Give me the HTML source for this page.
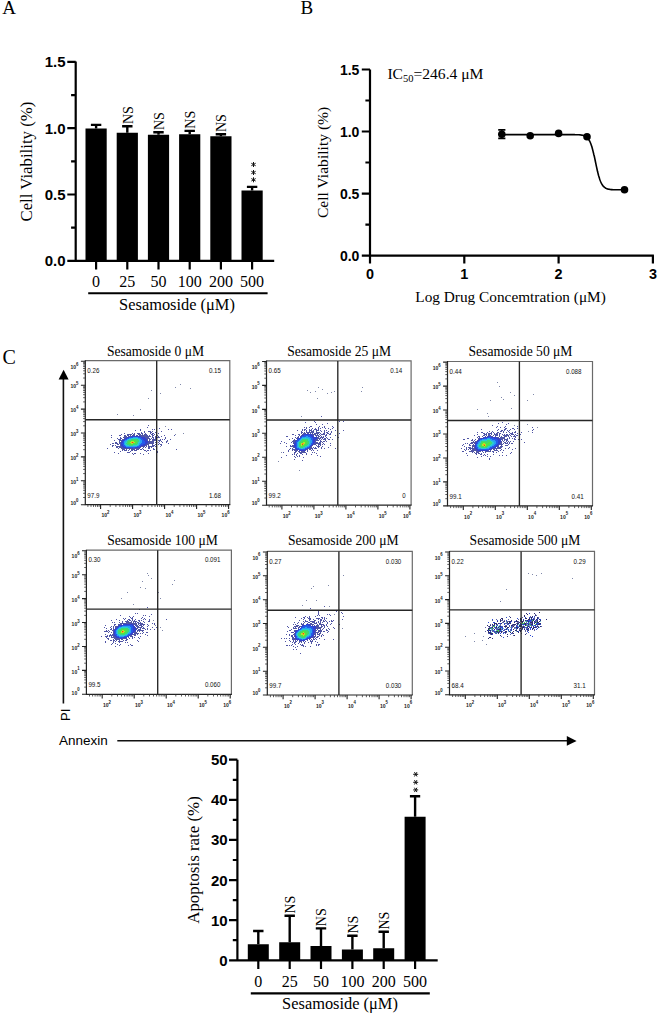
<!DOCTYPE html><html><head><meta charset="utf-8"><style>html,body{margin:0;padding:0;background:#fff;width:660px;height:1016px;overflow:hidden}svg{display:block}.s{font-family:"Liberation Serif",serif}.a{font-family:"Liberation Sans",sans-serif}</style></head><body><svg width="660" height="1016" viewBox="0 0 660 1016">
<text x="2.2" y="13.6" class="s" font-size="19">A</text>
<text x="300.6" y="13.8" class="s" font-size="19">B</text>
<text x="2.6" y="364.0" class="s" font-size="20">C</text>
<path d="M85.5 128.5H106.7V260.8H85.5ZM116.7 132.7H137.9V260.8H116.7ZM147.9 134.8H169.1V260.8H147.9ZM179.1 134.3H200.3V260.8H179.1ZM210.3 136.3H231.5V260.8H210.3ZM241.5 190.5H262.7V260.8H241.5Z" fill="#000"/>
<path d="M96.1 128.5V124.9M90.9 124.9H101.3M127.3 132.7V126.2M122.1 126.2H132.5M158.5 134.8V132.2M153.3 132.2H163.7M189.7 134.3V130.9M184.5 130.9H194.9M220.9 136.3V134.2M215.7 134.2H226.1M252.1 190.5V186.9M246.9 186.9H257.3" stroke="#000" stroke-width="2.4" fill="none"/>
<path d="M75.7 61.5V260.8M67.3 260.8H274.2M67.3 194.5H75.7M67.3 128.2H75.7M67.3 61.9H75.7M71.1 227.7H75.7M71.1 161.4H75.7M71.1 95.1H75.7M96.1 260.8V269.4M127.3 260.8V269.4M158.5 260.8V269.4M189.7 260.8V269.4M220.9 260.8V269.4M252.1 260.8V269.4" stroke="#000" stroke-width="2.2" fill="none"/>
<text x="65.6" y="266.2" class="a" font-size="15" text-anchor="end" font-weight="bold">0.0</text>
<text x="65.6" y="199.9" class="a" font-size="15" text-anchor="end" font-weight="bold">0.5</text>
<text x="65.6" y="133.6" class="a" font-size="15" text-anchor="end" font-weight="bold">1.0</text>
<text x="65.6" y="67.3" class="a" font-size="15" text-anchor="end" font-weight="bold">1.5</text>
<text x="96.1" y="286.6" class="s" font-size="16" text-anchor="middle">0</text>
<text x="127.3" y="286.6" class="s" font-size="16" text-anchor="middle">25</text>
<text x="158.5" y="286.6" class="s" font-size="16" text-anchor="middle">50</text>
<text x="189.7" y="286.6" class="s" font-size="16" text-anchor="middle">100</text>
<text x="220.9" y="286.6" class="s" font-size="16" text-anchor="middle">200</text>
<text x="252.1" y="286.6" class="s" font-size="16" text-anchor="middle">500</text>
<path d="M88.2 293.3H267.6" stroke="#000" stroke-width="2"/>
<text x="177.0" y="310.3" class="s" font-size="16.4" text-anchor="middle">Sesamoside (&#956;M)</text>
<text x="32.2" y="161.6" class="s" font-size="16.8" text-anchor="middle" transform="rotate(-90 32.2 161.6)">Cell Viability (%)</text>
<text x="132.5" y="124.0" class="s" font-size="14" transform="rotate(-90 132.5 124.0)">NS</text>
<text x="163.7" y="130.0" class="s" font-size="14" transform="rotate(-90 163.7 130.0)">NS</text>
<text x="194.9" y="128.7" class="s" font-size="14" transform="rotate(-90 194.9 128.7)">NS</text>
<text x="226.1" y="132.0" class="s" font-size="14" transform="rotate(-90 226.1 132.0)">NS</text>
<path d="M253.50 162.00L253.50 167.00M255.67 163.25L251.33 165.75M255.67 165.75L251.33 163.25M253.50 170.00L253.50 175.00M255.67 171.25L251.33 173.75M255.67 173.75L251.33 171.25M253.50 177.30L253.50 182.30M255.67 178.55L251.33 181.05M255.67 181.05L251.33 178.55" stroke="#111" stroke-width="1.0" fill="none"/>
<path d="M370.0 69.4V255.6M361.8 255.6H653.9M361.8 193.6H370.0M361.8 131.5H370.0M361.8 69.5H370.0M365.4 224.6H370.0M365.4 162.5H370.0M365.4 100.5H370.0M370.0 255.6V263.6M464.3 255.6V263.6M558.6 255.6V263.6M652.9 255.6V263.6" stroke="#000" stroke-width="2.2" fill="none"/>
<text x="359.4" y="260.6" class="a" font-size="14" text-anchor="end" font-weight="bold">0.0</text>
<text x="359.4" y="198.6" class="a" font-size="14" text-anchor="end" font-weight="bold">0.5</text>
<text x="359.4" y="136.5" class="a" font-size="14" text-anchor="end" font-weight="bold">1.0</text>
<text x="359.4" y="74.5" class="a" font-size="14" text-anchor="end" font-weight="bold">1.5</text>
<text x="370.0" y="278.8" class="a" font-size="14.4" text-anchor="middle" font-weight="bold">0</text>
<text x="464.3" y="278.8" class="a" font-size="14.4" text-anchor="middle" font-weight="bold">1</text>
<text x="558.6" y="278.8" class="a" font-size="14.4" text-anchor="middle" font-weight="bold">2</text>
<text x="652.9" y="278.8" class="a" font-size="14.4" text-anchor="middle" font-weight="bold">3</text>
<text x="510.6" y="301.8" class="s" font-size="15.3" text-anchor="middle">Log Drug Concemtration (&#956;M)</text>
<text x="328.4" y="162.4" class="s" font-size="15.6" text-anchor="middle" transform="rotate(-90 328.4 162.4)">Cell Viability (%)</text>
<text x="387.4" y="79.2" class="s" font-size="15.6">IC<tspan font-size="10.5" dy="3">50</tspan><tspan dy="-3">=246.4 &#956;M</tspan></text>
<path d="M501.8 134.6 L502.2 134.6 L502.6 134.6 L503.1 134.6 L503.5 134.6 L503.9 134.6 L504.3 134.6 L504.7 134.6 L505.1 134.6 L505.5 134.6 L505.9 134.6 L506.3 134.6 L506.7 134.6 L507.1 134.6 L507.6 134.6 L508.0 134.6 L508.4 134.6 L508.8 134.6 L509.2 134.6 L509.6 134.6 L510.0 134.6 L510.4 134.6 L510.8 134.6 L511.2 134.6 L511.6 134.6 L512.0 134.6 L512.5 134.6 L512.9 134.6 L513.3 134.6 L513.7 134.6 L514.1 134.6 L514.5 134.6 L514.9 134.6 L515.3 134.6 L515.7 134.6 L516.1 134.6 L516.5 134.6 L517.0 134.6 L517.4 134.6 L517.8 134.6 L518.2 134.6 L518.6 134.6 L519.0 134.6 L519.4 134.6 L519.8 134.6 L520.2 134.6 L520.6 134.6 L521.0 134.6 L521.5 134.6 L521.9 134.6 L522.3 134.6 L522.7 134.6 L523.1 134.6 L523.5 134.6 L523.9 134.6 L524.3 134.6 L524.7 134.6 L525.1 134.6 L525.5 134.6 L526.0 134.6 L526.4 134.6 L526.8 134.6 L527.2 134.6 L527.6 134.6 L528.0 134.6 L528.4 134.6 L528.8 134.6 L529.2 134.6 L529.6 134.6 L530.0 134.6 L530.5 134.6 L530.9 134.6 L531.3 134.6 L531.7 134.6 L532.1 134.6 L532.5 134.6 L532.9 134.6 L533.3 134.6 L533.7 134.6 L534.1 134.6 L534.5 134.6 L535.0 134.6 L535.4 134.6 L535.8 134.6 L536.2 134.6 L536.6 134.6 L537.0 134.6 L537.4 134.6 L537.8 134.6 L538.2 134.6 L538.6 134.6 L539.0 134.6 L539.4 134.6 L539.9 134.6 L540.3 134.6 L540.7 134.6 L541.1 134.6 L541.5 134.6 L541.9 134.6 L542.3 134.6 L542.7 134.6 L543.1 134.6 L543.5 134.6 L543.9 134.6 L544.4 134.6 L544.8 134.6 L545.2 134.6 L545.6 134.6 L546.0 134.6 L546.4 134.6 L546.8 134.6 L547.2 134.6 L547.6 134.6 L548.0 134.6 L548.4 134.6 L548.9 134.6 L549.3 134.6 L549.7 134.6 L550.1 134.6 L550.5 134.6 L550.9 134.6 L551.3 134.6 L551.7 134.6 L552.1 134.6 L552.5 134.6 L552.9 134.6 L553.4 134.6 L553.8 134.6 L554.2 134.6 L554.6 134.6 L555.0 134.6 L555.4 134.6 L555.8 134.6 L556.2 134.6 L556.6 134.6 L557.0 134.6 L557.4 134.6 L557.9 134.6 L558.3 134.6 L558.7 134.6 L559.1 134.6 L559.5 134.6 L559.9 134.6 L560.3 134.6 L560.7 134.6 L561.1 134.6 L561.5 134.6 L561.9 134.6 L562.4 134.6 L562.8 134.6 L563.2 134.6 L563.6 134.6 L564.0 134.6 L564.4 134.6 L564.8 134.6 L565.2 134.6 L565.6 134.6 L566.0 134.6 L566.4 134.6 L566.8 134.6 L567.3 134.6 L567.7 134.6 L568.1 134.6 L568.5 134.6 L568.9 134.6 L569.3 134.6 L569.7 134.6 L570.1 134.6 L570.5 134.6 L570.9 134.6 L571.3 134.6 L571.8 134.6 L572.2 134.6 L572.6 134.6 L573.0 134.6 L573.4 134.6 L573.8 134.6 L574.2 134.6 L574.6 134.6 L575.0 134.7 L575.4 134.7 L575.8 134.7 L576.3 134.7 L576.7 134.7 L577.1 134.7 L577.5 134.7 L577.9 134.7 L578.3 134.8 L578.7 134.8 L579.1 134.8 L579.5 134.8 L579.9 134.9 L580.3 134.9 L580.8 135.0 L581.2 135.0 L581.6 135.1 L582.0 135.1 L582.4 135.2 L582.8 135.3 L583.2 135.4 L583.6 135.5 L584.0 135.7 L584.4 135.8 L584.8 136.0 L585.3 136.2 L585.7 136.4 L586.1 136.7 L586.5 137.0 L586.9 137.3 L587.3 137.7 L587.7 138.2 L588.1 138.7 L588.5 139.2 L588.9 139.8 L589.3 140.5 L589.8 141.3 L590.2 142.2 L590.6 143.2 L591.0 144.2 L591.4 145.4 L591.8 146.6 L592.2 148.0 L592.6 149.5 L593.0 151.1 L593.4 152.7 L593.8 154.5 L594.3 156.3 L594.7 158.1 L595.1 160.0 L595.5 162.0 L595.9 163.9 L596.3 165.8 L596.7 167.7 L597.1 169.5 L597.5 171.3 L597.9 172.9 L598.3 174.5 L598.7 176.0 L599.2 177.4 L599.6 178.7 L600.0 179.9 L600.4 181.0 L600.8 182.0 L601.2 182.9 L601.6 183.7 L602.0 184.4 L602.4 185.1 L602.8 185.6 L603.2 186.1 L603.7 186.6 L604.1 187.0 L604.5 187.3 L604.9 187.7 L605.3 187.9 L605.7 188.2 L606.1 188.4 L606.5 188.6 L606.9 188.7 L607.3 188.9 L607.7 189.0 L608.2 189.1 L608.6 189.2 L609.0 189.3 L609.4 189.3 L609.8 189.4 L610.2 189.5 L610.6 189.5 L611.0 189.6 L611.4 189.6 L611.8 189.6 L612.2 189.6 L612.7 189.7 L613.1 189.7 L613.5 189.7 L613.9 189.7 L614.3 189.7 L614.7 189.7 L615.1 189.8 L615.5 189.8 L615.9 189.8 L616.3 189.8 L616.7 189.8 L617.2 189.8 L617.6 189.8 L618.0 189.8 L618.4 189.8 L618.8 189.8 L619.2 189.8 L619.6 189.8 L620.0 189.8 L620.4 189.8 L620.8 189.8 L621.2 189.8 L621.7 189.8 L622.1 189.8 L622.5 189.8 L622.9 189.8 L623.3 189.8 L623.7 189.8 L624.1 189.8 L624.5 189.8" stroke="#000" stroke-width="1.6" fill="none"/>
<circle cx="501.8" cy="134.2" r="3.8" fill="#000"/>
<circle cx="530.2" cy="135.8" r="3.8" fill="#000"/>
<circle cx="558.6" cy="133.4" r="3.8" fill="#000"/>
<circle cx="587.0" cy="136.8" r="3.8" fill="#000"/>
<circle cx="624.5" cy="189.7" r="3.8" fill="#000"/>
<path d="M498.2 129.9H505.4M498.2 138.3H505.4M501.8 129.9V138.3" stroke="#000" stroke-width="1.8"/>
<path d="M63.4 378V703.6M117.3 740.7H568" stroke="#111" stroke-width="1.6" fill="none"/>
<path d="M63.6 369.8L68.6 379.6H58.6Z" fill="#000"/>
<path d="M576.6 740.9L566.8 736.1V745.7Z" fill="#000"/>
<text x="69.6" y="721.0" class="a" font-size="13" transform="rotate(-90 69.6 721.0)">PI</text>
<text x="58.9" y="745.2" class="a" font-size="13.5">Annexin</text>
<path d="M126 442.5h1M130 439.5h1M138 442.5h1M133 445.5h1M137 444.5h1M128 445.5h1M126 444.5h1M138 439.5h1M134 445.5h1M138 443.5h1M126 441.5h1M134 438.5h1M135 438.5h1M127 440.5h1M129 439.5h1M127 445.5h1M133 438.5h1M136 438.5h1M135 445.5h1M139 441.5h1M139 440.5h1M132 438.5h1M136 445.5h1M137 438.5h1M125 443.5h1M138 444.5h1M139 442.5h1M125 442.5h1M126 445.5h1M128 439.5h1M139 439.5h1M131 438.5h1M125 444.5h1M137 445.5h1" stroke="rgb(40, 205, 210)" stroke-width="1" fill="none"/>
<path d="M132 441.5h1M131 443.5h1M132 443.5h1M133 441.5h1M130 442.5h1M131 441.5h1M134 442.5h1" stroke="rgb(180, 230, 40)" stroke-width="1" fill="none"/>
<path d="M138 438.5h1M126 440.5h1M139 443.5h1M125 441.5h1M140 441.5h1M130 438.5h1M140 440.5h1M131 446.5h1M130 446.5h1M132 446.5h1M129 446.5h1M125 445.5h1M127 439.5h1M140 442.5h1M128 446.5h1M138 445.5h1M133 446.5h1M139 444.5h1M127 446.5h1M124 443.5h1M140 439.5h1M139 438.5h1M129 438.5h1M134 446.5h1M124 442.5h1M135 437.5h1M124 444.5h1M140 443.5h1M136 437.5h1M134 437.5h1M126 446.5h1M135 446.5h1M141 441.5h1M137 437.5h1M133 437.5h1M125 440.5h1M136 446.5h1M141 442.5h1M141 440.5h1M124 441.5h1" stroke="rgb(40, 160, 240)" stroke-width="1" fill="none"/>
<path d="M131 442.5h1M133 442.5h1" stroke="rgb(245, 160, 30)" stroke-width="1" fill="none"/>
<path d="M133 444.5h1M136 440.5h1M129 444.5h1M130 440.5h1M136 443.5h1M134 444.5h1M128 441.5h1M137 441.5h1M133 439.5h1M134 439.5h1M128 444.5h1M127 443.5h1M127 442.5h1M137 442.5h1M137 440.5h1M135 439.5h1M132 439.5h1M135 444.5h1M129 440.5h1M136 439.5h1M137 443.5h1M131 439.5h1M127 444.5h1M136 444.5h1M127 441.5h1M137 439.5h1M131 445.5h1M130 445.5h1M138 441.5h1M128 440.5h1M138 440.5h1M132 445.5h1M126 443.5h1M129 445.5h1" stroke="rgb(60, 215, 120)" stroke-width="1" fill="none"/>
<path d="M133 443.5h1M130 443.5h1M134 441.5h1M130 441.5h1M134 443.5h1M135 442.5h1M135 441.5h1M129 442.5h1M133 440.5h1M132 440.5h1M129 443.5h1M134 440.5h1M131 444.5h1M131 440.5h1M132 444.5h1M135 443.5h1M135 440.5h1M130 444.5h1M136 441.5h1M129 441.5h1M136 442.5h1M128 442.5h1M128 443.5h1" stroke="rgb(80, 225, 70)" stroke-width="1" fill="none"/>
<path d="M137 446.5h1M124 445.5h1M128 438.5h1M126 439.5h1M132 437.5h1M139 445.5h1M125 446.5h1M141 443.5h1M138 437.5h1M140 444.5h1M140 438.5h1M141 439.5h1M142 442.5h1M142 441.5h1M123 443.5h1M138 446.5h1M142 443.5h1M131 437.5h1M123 442.5h1M123 444.5h1M142 440.5h1M143 442.5h1M139 437.5h1M141 444.5h1M127 438.5h1M124 446.5h1M124 440.5h1M143 443.5h1M143 441.5h1M130 437.5h1M141 438.5h1M123 445.5h1M142 439.5h1M132 447.5h1M140 445.5h1M123 441.5h1M131 447.5h1M125 439.5h1M133 447.5h1M142 444.5h1M143 440.5h1M130 447.5h1M144 442.5h1M139 446.5h1M127 447.5h1M129 447.5h1M128 447.5h1M126 447.5h1M134 447.5h1M144 441.5h1M144 443.5h1M129 437.5h1M122 443.5h1M140 437.5h1" stroke="rgb(35, 90, 235)" stroke-width="1" fill="none"/>
<path d="M132 442.5h1" stroke="rgb(235, 70, 25)" stroke-width="1" fill="none"/>
<path d="M133 448.5h1M121 441.5h1M141 446.5h1M123 439.5h1M125 448.5h1M130 436.5h1M131 448.5h1M145 437.5h1M126 448.5h1M147 443.5h1M147 440.5h1M134 448.5h1M141 436.5h1M146 438.5h1M148 442.5h1M124 448.5h1M127 448.5h1M130 448.5h1M146 444.5h1M148 441.5h1M126 437.5h1M142 436.5h1M120 443.5h1M135 448.5h1M129 436.5h1M143 436.5h1M128 448.5h1M129 448.5h1M122 447.5h1M147 439.5h1M124 438.5h1M146 437.5h1M142 446.5h1M120 442.5h1M144 436.5h1M121 446.5h1M136 448.5h1M120 444.5h1M140 447.5h1M145 445.5h1M148 443.5h1M145 436.5h1M137 448.5h1M147 438.5h1M149 442.5h1M123 448.5h1M121 440.5h1M137 435.5h1M128 436.5h1M143 446.5h1M136 435.5h1M149 441.5h1M147 444.5h1M147 437.5h1M134 435.5h1M138 448.5h1M146 436.5h1M120 445.5h1M122 439.5h1M139 435.5h1M133 435.5h1M125 437.5h1M149 443.5h1M150 442.5h1M149 440.5h1M148 438.5h1M140 435.5h1M144 446.5h1M132 435.5h1M146 445.5h1M150 441.5h1M147 436.5h1M121 447.5h1M148 444.5h1M148 437.5h1M139 448.5h1M144 435.5h1M119 443.5h1M141 435.5h1M120 446.5h1M145 435.5h1M143 435.5h1M142 435.5h1M122 448.5h1M124 449.5h1M119 442.5h1M151 442.5h1M149 439.5h1M150 443.5h1M132 449.5h1M151 441.5h1M133 449.5h1M126 449.5h1M120 440.5h1M146 435.5h1M148 436.5h1M149 438.5h1M131 449.5h1M134 449.5h1M126 436.5h1M124 437.5h1M130 435.5h1M152 441.5h1M151 443.5h1M152 442.5h1M119 441.5h1M123 449.5h1M150 439.5h1M147 435.5h1M152 440.5h1M129 449.5h1M149 436.5h1M136 449.5h1M120 447.5h1M143 447.5h1M153 441.5h1M153 440.5h1M152 443.5h1M119 446.5h1M152 439.5h1M148 445.5h1M137 449.5h1M128 435.5h1M125 436.5h1M121 448.5h1M151 438.5h1M153 439.5h1M146 446.5h1M153 442.5h1M139 434.5h1M138 434.5h1M150 436.5h1M118 444.5h1M120 439.5h1M144 434.5h1M140 434.5h1M145 434.5h1M138 449.5h1M123 437.5h1M153 438.5h1M119 440.5h1M154 440.5h1M152 437.5h1M154 439.5h1M122 449.5h1M149 435.5h1M142 434.5h1M127 435.5h1M134 434.5h1M152 436.5h1M133 434.5h1M146 434.5h1M125 450.5h1M153 437.5h1M153 443.5h1M121 438.5h1M152 444.5h1M124 450.5h1M152 435.5h1M126 450.5h1M119 447.5h1M155 439.5h1M118 446.5h1M155 440.5h1M124 436.5h1M132 450.5h1M131 434.5h1M151 434.5h1M131 450.5h1M155 438.5h1M145 447.5h1M152 434.5h1M153 435.5h1M142 448.5h1M134 450.5h1M117 444.5h1M117 443.5h1M148 446.5h1M130 434.5h1M128 450.5h1M155 437.5h1M119 439.5h1M152 445.5h1M135 450.5h1M156 440.5h1M140 449.5h1M120 438.5h1M129 434.5h1M152 433.5h1M156 438.5h1M149 446.5h1M125 435.5h1M155 442.5h1M150 433.5h1M156 441.5h1M155 436.5h1M117 446.5h1M136 450.5h1M128 434.5h1M145 433.5h1M156 437.5h1M153 445.5h1M139 433.5h1M150 446.5h1M141 433.5h1M142 433.5h1M153 433.5h1M138 433.5h1M151 446.5h1M122 450.5h1M154 434.5h1M116 443.5h1M151 432.5h1M152 446.5h1M127 434.5h1M141 449.5h1M158 440.5h1M156 442.5h1M137 433.5h1M150 432.5h1M148 447.5h1M159 440.5h1M124 435.5h1M157 437.5h1M117 447.5h1M159 441.5h1M116 442.5h1M149 447.5h1M153 446.5h1M134 433.5h1M132 433.5h1M160 440.5h1M130 451.5h1M116 446.5h1M118 439.5h1M154 445.5h1M120 437.5h1M115 443.5h1M158 442.5h1M118 448.5h1M160 439.5h1M151 447.5h1M156 443.5h1M155 444.5h1M158 437.5h1M115 445.5h1M150 431.5h1M115 442.5h1M144 432.5h1M143 449.5h1M148 448.5h1M152 431.5h1M116 447.5h1M141 432.5h1M161 441.5h1M157 435.5h1M149 448.5h1M158 436.5h1M156 434.5h1M149 431.5h1M159 443.5h1M159 437.5h1M128 452.5h1M129 452.5h1M127 452.5h1M113 443.5h1M153 448.5h1M148 431.5h1M155 446.5h1M162 439.5h1M113 445.5h1M158 444.5h1M155 432.5h1M160 444.5h1M144 431.5h1M147 450.5h1M144 450.5h1M112 443.5h1M145 450.5h1M162 442.5h1M148 450.5h1M112 445.5h1M117 438.5h1M120 435.5h1M161 444.5h1M153 449.5h1M132 453.5h1M134 453.5h1M146 451.5h1M124 433.5h1M164 439.5h1M112 446.5h1M150 450.5h1M154 449.5h1M120 451.5h1M119 435.5h1M135 453.5h1M121 434.5h1M114 440.5h1M165 438.5h1M152 429.5h1M158 433.5h1M161 436.5h1M140 430.5h1M161 445.5h1M166 441.5h1M133 454.5h1M167 440.5h1M165 437.5h1M166 442.5h1M110 444.5h1M154 429.5h1M140 429.5h1M164 435.5h1M157 451.5h1M148 453.5h1M168 443.5h1M157 452.5h1M135 430.5h1M140 453.5h1M147 427.5h1M111 437.5h1M111 435.5h1M148 425.5h1M143 454.5h1M118 453.5h1M170 439.5h1M161 431.5h1M171 429.5h1M168 429.5h1M159 428.5h1M114 452.5h1M107 448.5h1M174 435.5h1M176 449.5h1" stroke="rgb(80, 85, 165)" stroke-width="1" fill="none"/>
<path d="M143 444.5h1M125 447.5h1M142 438.5h1M143 439.5h1M122 442.5h1M135 447.5h1M122 444.5h1M123 446.5h1M144 440.5h1M136 447.5h1M136 436.5h1M135 436.5h1M126 438.5h1M137 436.5h1M141 445.5h1M134 436.5h1M137 447.5h1M145 442.5h1M145 441.5h1M123 440.5h1M144 444.5h1M124 447.5h1M122 445.5h1M128 437.5h1M133 436.5h1M143 438.5h1M141 437.5h1M138 436.5h1M144 439.5h1M145 443.5h1M122 441.5h1M124 439.5h1M145 440.5h1M138 447.5h1M142 445.5h1M140 446.5h1M132 436.5h1M146 442.5h1M142 437.5h1M146 441.5h1M144 438.5h1M121 443.5h1M139 436.5h1M145 439.5h1M143 445.5h1M121 442.5h1M121 444.5h1M122 446.5h1M143 437.5h1M125 438.5h1M146 440.5h1M127 437.5h1M123 447.5h1M145 444.5h1M146 443.5h1M131 436.5h1M145 438.5h1M139 447.5h1M147 442.5h1M144 437.5h1M147 441.5h1M140 436.5h1M122 440.5h1M132 448.5h1M146 439.5h1M144 445.5h1M121 445.5h1" stroke="rgb(50, 65, 205)" stroke-width="1" fill="none"/>
<path d="M117 414.5h1M133 415.5h1M140 409.5h1M148 398.5h1M151 390.5h1M160 393.5h1M175 387.5h1M180 384.5h1M190 388.5h1M165 426.5h1M175 434.5h1M183 433.5h1M167 441.5h1M160 446.5h1" stroke="#8088aa" stroke-width="1" fill="none"/>
<path d="M85.3 360.7H229.8V504.7" stroke="#6a6a6a" stroke-width="1.2" fill="none"/>
<path d="M85.3 360.2V504.7H230.3" stroke="#222" stroke-width="1.2" fill="none"/>
<path d="M156.7 360.7V504.7M85.3 419.7H229.8" stroke="#262626" stroke-width="1.35" fill="none"/>
<path d="M80.9 504.7H85.3M80.9 480.8H85.3M80.9 456.9H85.3M80.9 433.0H85.3M80.9 409.1H85.3M80.9 385.2H85.3M80.9 361.3H85.3M100.6 504.7V508.9M132.6 504.7V508.9M164.6 504.7V508.9M196.6 504.7V508.9M228.6 504.7V508.9" stroke="#222" stroke-width="1.1" fill="none"/>
<path d="M83.1 497.5H85.3M83.1 493.3H85.3M83.1 490.3H85.3M83.1 488.0H85.3M83.1 486.1H85.3M83.1 484.5H85.3M83.1 483.1H85.3M83.1 481.9H85.3M83.1 473.6H85.3M83.1 469.4H85.3M83.1 466.4H85.3M83.1 464.1H85.3M83.1 462.2H85.3M83.1 460.6H85.3M83.1 459.2H85.3M83.1 458.0H85.3M83.1 449.7H85.3M83.1 445.5H85.3M83.1 442.5H85.3M83.1 440.2H85.3M83.1 438.3H85.3M83.1 436.7H85.3M83.1 435.3H85.3M83.1 434.1H85.3M83.1 425.8H85.3M83.1 421.6H85.3M83.1 418.6H85.3M83.1 416.3H85.3M83.1 414.4H85.3M83.1 412.8H85.3M83.1 411.4H85.3M83.1 410.2H85.3M83.1 401.9H85.3M83.1 397.7H85.3M83.1 394.7H85.3M83.1 392.4H85.3M83.1 390.5H85.3M83.1 388.9H85.3M83.1 387.5H85.3M83.1 386.3H85.3M83.1 378.0H85.3M83.1 373.8H85.3M83.1 370.8H85.3M83.1 368.5H85.3M83.1 366.6H85.3M83.1 365.0H85.3M83.1 363.6H85.3M83.1 362.4H85.3M87.9 504.7V506.9M91.0 504.7V506.9M93.5 504.7V506.9M95.6 504.7V506.9M97.5 504.7V506.9M99.1 504.7V506.9M110.2 504.7V506.9M115.9 504.7V506.9M119.9 504.7V506.9M123.0 504.7V506.9M125.5 504.7V506.9M127.6 504.7V506.9M129.5 504.7V506.9M131.1 504.7V506.9M142.2 504.7V506.9M147.9 504.7V506.9M151.9 504.7V506.9M155.0 504.7V506.9M157.5 504.7V506.9M159.6 504.7V506.9M161.5 504.7V506.9M163.1 504.7V506.9M174.2 504.7V506.9M179.9 504.7V506.9M183.9 504.7V506.9M187.0 504.7V506.9M189.5 504.7V506.9M191.6 504.7V506.9M193.5 504.7V506.9M195.1 504.7V506.9M206.2 504.7V506.9M211.9 504.7V506.9M215.9 504.7V506.9M219.0 504.7V506.9M221.5 504.7V506.9M223.6 504.7V506.9M225.5 504.7V506.9M227.1 504.7V506.9" stroke="#333" stroke-width="0.8" fill="none"/>
<text x="78.5" y="504.9" class="a" font-size="5.3" font-weight="bold" text-anchor="end" fill="#222" textLength="8" lengthAdjust="spacingAndGlyphs">10<tspan font-size="4.5" dy="-3.2">0</tspan></text>
<text x="78.5" y="484.0" class="a" font-size="5.3" font-weight="bold" text-anchor="end" fill="#222" textLength="8" lengthAdjust="spacingAndGlyphs">10<tspan font-size="4.5" dy="-3.2">1</tspan></text>
<text x="78.5" y="460.1" class="a" font-size="5.3" font-weight="bold" text-anchor="end" fill="#222" textLength="8" lengthAdjust="spacingAndGlyphs">10<tspan font-size="4.5" dy="-3.2">2</tspan></text>
<text x="78.5" y="436.2" class="a" font-size="5.3" font-weight="bold" text-anchor="end" fill="#222" textLength="8" lengthAdjust="spacingAndGlyphs">10<tspan font-size="4.5" dy="-3.2">3</tspan></text>
<text x="78.5" y="412.3" class="a" font-size="5.3" font-weight="bold" text-anchor="end" fill="#222" textLength="8" lengthAdjust="spacingAndGlyphs">10<tspan font-size="4.5" dy="-3.2">4</tspan></text>
<text x="78.5" y="388.4" class="a" font-size="5.3" font-weight="bold" text-anchor="end" fill="#222" textLength="8" lengthAdjust="spacingAndGlyphs">10<tspan font-size="4.5" dy="-3.2">5</tspan></text>
<text x="78.5" y="368.9" class="a" font-size="5.3" font-weight="bold" text-anchor="end" fill="#222" textLength="8" lengthAdjust="spacingAndGlyphs">10<tspan font-size="4.5" dy="-3.2">6</tspan></text>
<text x="101.4" y="517.3" class="a" font-size="5.3" font-weight="bold" fill="#222" textLength="8" lengthAdjust="spacingAndGlyphs">10<tspan font-size="4.5" dy="-3.2">2</tspan></text>
<text x="133.4" y="517.3" class="a" font-size="5.3" font-weight="bold" fill="#222" textLength="8" lengthAdjust="spacingAndGlyphs">10<tspan font-size="4.5" dy="-3.2">3</tspan></text>
<text x="165.4" y="517.3" class="a" font-size="5.3" font-weight="bold" fill="#222" textLength="8" lengthAdjust="spacingAndGlyphs">10<tspan font-size="4.5" dy="-3.2">4</tspan></text>
<text x="197.4" y="517.3" class="a" font-size="5.3" font-weight="bold" fill="#222" textLength="8" lengthAdjust="spacingAndGlyphs">10<tspan font-size="4.5" dy="-3.2">5</tspan></text>
<text x="221.6" y="517.3" class="a" font-size="5.3" font-weight="bold" fill="#222" textLength="8" lengthAdjust="spacingAndGlyphs">10<tspan font-size="4.5" dy="-3.2">6</tspan></text>
<text x="87.3" y="372.8" class="a" font-size="7.3" fill="#111" textLength="12.1" lengthAdjust="spacingAndGlyphs">0.26</text>
<text x="221.0" y="372.8" class="a" font-size="7.3" fill="#111" text-anchor="end" textLength="12.1" lengthAdjust="spacingAndGlyphs">0.15</text>
<text x="87.3" y="497.5" class="a" font-size="7.3" fill="#111" textLength="12.1" lengthAdjust="spacingAndGlyphs">97.9</text>
<text x="221.0" y="497.5" class="a" font-size="7.3" fill="#111" text-anchor="end" textLength="12.1" lengthAdjust="spacingAndGlyphs">1.68</text>
<text x="106.9" y="356.1" class="s" font-size="13.6">Sesamoside 0 &#956;M</text>
<path d="M308 440.5h1M303 447.5h1M305 438.5h1M304 438.5h1M305 446.5h1M308 444.5h1M298 445.5h1M307 445.5h1M298 444.5h1M306 438.5h1M309 442.5h1M309 441.5h1M303 438.5h1M299 447.5h1M308 439.5h1M298 443.5h1M298 446.5h1M307 438.5h1M309 443.5h1M300 440.5h1M309 440.5h1M301 439.5h1M299 441.5h1M306 446.5h1M304 447.5h1M301 448.5h1M308 438.5h1M302 438.5h1M309 439.5h1M302 448.5h1M298 442.5h1M308 445.5h1M305 437.5h1" stroke="rgb(40, 205, 210)" stroke-width="1" fill="none"/>
<path d="M301 444.5h1M303 442.5h1M303 444.5h1M301 443.5h1M304 442.5h1M301 445.5h1M304 443.5h1" stroke="rgb(180, 230, 40)" stroke-width="1" fill="none"/>
<path d="M310 441.5h1M306 437.5h1M309 444.5h1M300 448.5h1M310 442.5h1M304 437.5h1M298 447.5h1M310 440.5h1M307 437.5h1M307 446.5h1M309 438.5h1M303 448.5h1M305 447.5h1M297 445.5h1M297 444.5h1M303 437.5h1M310 443.5h1M308 437.5h1M299 440.5h1M310 439.5h1M300 439.5h1M298 441.5h1M297 443.5h1M299 448.5h1M297 446.5h1M301 438.5h1M309 437.5h1M310 438.5h1M297 442.5h1M311 441.5h1M309 445.5h1M306 447.5h1M302 437.5h1M304 448.5h1M311 440.5h1M311 442.5h1M306 436.5h1M310 444.5h1M308 446.5h1M297 447.5h1M307 436.5h1" stroke="rgb(40, 160, 240)" stroke-width="1" fill="none"/>
<path d="M302 443.5h1M303 443.5h1" stroke="rgb(245, 160, 30)" stroke-width="1" fill="none"/>
<path d="M300 446.5h1M301 441.5h1M306 444.5h1M300 442.5h1M307 442.5h1M303 446.5h1M306 440.5h1M302 440.5h1M307 443.5h1M299 444.5h1M299 445.5h1M307 441.5h1M304 439.5h1M305 445.5h1M305 439.5h1M299 443.5h1M303 439.5h1M307 444.5h1M301 447.5h1M307 440.5h1M299 446.5h1M302 447.5h1M306 439.5h1M308 442.5h1M304 446.5h1M306 445.5h1M300 441.5h1M301 440.5h1M308 443.5h1M308 441.5h1M300 447.5h1M302 439.5h1M299 442.5h1M307 439.5h1" stroke="rgb(60, 215, 120)" stroke-width="1" fill="none"/>
<path d="M302 445.5h1M302 442.5h1M304 441.5h1M305 442.5h1M303 441.5h1M305 443.5h1M304 444.5h1M300 444.5h1M305 441.5h1M301 442.5h1M303 445.5h1M300 445.5h1M302 441.5h1M301 446.5h1M300 443.5h1M306 442.5h1M304 440.5h1M306 443.5h1M302 446.5h1M305 444.5h1M303 440.5h1M305 440.5h1M306 441.5h1M304 445.5h1" stroke="rgb(80, 225, 70)" stroke-width="1" fill="none"/>
<path d="M305 436.5h1M298 448.5h1M311 439.5h1M308 436.5h1M304 436.5h1M302 449.5h1M310 437.5h1M311 443.5h1M301 449.5h1M298 440.5h1M297 441.5h1M299 439.5h1M296 444.5h1M296 445.5h1M300 438.5h1M307 447.5h1M296 443.5h1M309 436.5h1M311 438.5h1M303 436.5h1M300 449.5h1M303 449.5h1M296 446.5h1M305 448.5h1M301 437.5h1M312 441.5h1M296 442.5h1M297 448.5h1M312 440.5h1M310 445.5h1M312 442.5h1M309 446.5h1M311 444.5h1M299 449.5h1M310 436.5h1M311 437.5h1M296 447.5h1M312 439.5h1M307 435.5h1M306 435.5h1M302 436.5h1M308 435.5h1M305 435.5h1M297 440.5h1M304 449.5h1M296 441.5h1M312 443.5h1M308 447.5h1M312 438.5h1M306 448.5h1M298 449.5h1M298 439.5h1M304 435.5h1M309 435.5h1" stroke="rgb(35, 90, 235)" stroke-width="1" fill="none"/>
<path d="M302 444.5h1" stroke="rgb(235, 70, 25)" stroke-width="1" fill="none"/>
<path d="M316 436.5h1M311 446.5h1M308 448.5h1M313 435.5h1M312 445.5h1M315 440.5h1M294 447.5h1M294 442.5h1M313 444.5h1M310 447.5h1M306 449.5h1M317 437.5h1M312 434.5h1M316 439.5h1M315 435.5h1M314 443.5h1M303 434.5h1M315 441.5h1M316 435.5h1M300 436.5h1M317 438.5h1M295 449.5h1M295 440.5h1M313 434.5h1M297 450.5h1M317 435.5h1M315 442.5h1M307 433.5h1M301 435.5h1M308 433.5h1M314 434.5h1M293 445.5h1M316 440.5h1M315 434.5h1M302 451.5h1M310 433.5h1M294 441.5h1M309 448.5h1M305 450.5h1M293 446.5h1M301 451.5h1M312 433.5h1M317 439.5h1M303 451.5h1M318 436.5h1M317 434.5h1M318 437.5h1M296 450.5h1M305 433.5h1M302 434.5h1M311 447.5h1M318 435.5h1M307 449.5h1M315 443.5h1M314 444.5h1M297 438.5h1M293 447.5h1M316 433.5h1M314 433.5h1M318 438.5h1M315 433.5h1M304 433.5h1M293 443.5h1M317 433.5h1M294 449.5h1M316 442.5h1M310 448.5h1M317 440.5h1M304 451.5h1M295 450.5h1M311 432.5h1M299 451.5h1M298 437.5h1M312 432.5h1M310 432.5h1M318 433.5h1M303 433.5h1M319 436.5h1M293 442.5h1M294 440.5h1M309 432.5h1M313 432.5h1M316 443.5h1M317 432.5h1M308 432.5h1M316 432.5h1M298 451.5h1M307 432.5h1M317 442.5h1M315 444.5h1M292 446.5h1M319 434.5h1M311 448.5h1M306 432.5h1M292 445.5h1M318 440.5h1M319 438.5h1M318 432.5h1M293 441.5h1M294 450.5h1M311 431.5h1M317 443.5h1M296 438.5h1M309 449.5h1M296 451.5h1M312 431.5h1M302 452.5h1M301 452.5h1M293 449.5h1M320 437.5h1M319 439.5h1M304 432.5h1M303 452.5h1M320 435.5h1M313 431.5h1M318 443.5h1M295 451.5h1M310 449.5h1M300 452.5h1M316 431.5h1M309 431.5h1M319 442.5h1M307 450.5h1M320 438.5h1M297 437.5h1M319 432.5h1M312 448.5h1M292 448.5h1M319 443.5h1M321 436.5h1M321 437.5h1M304 452.5h1M293 440.5h1M294 439.5h1M299 452.5h1M311 430.5h1M313 447.5h1M318 444.5h1M301 433.5h1M320 442.5h1M298 436.5h1M320 441.5h1M322 437.5h1M320 440.5h1M306 431.5h1M299 435.5h1M310 430.5h1M302 432.5h1M320 433.5h1M320 443.5h1M316 445.5h1M291 446.5h1M319 444.5h1M323 437.5h1M322 438.5h1M313 430.5h1M323 436.5h1M317 430.5h1M321 439.5h1M316 430.5h1M321 434.5h1M318 430.5h1M321 441.5h1M292 449.5h1M309 430.5h1M305 452.5h1M292 441.5h1M318 445.5h1M312 449.5h1M295 452.5h1M320 444.5h1M324 438.5h1M323 439.5h1M301 453.5h1M322 434.5h1M311 429.5h1M300 453.5h1M323 434.5h1M325 436.5h1M301 432.5h1M324 439.5h1M324 434.5h1M325 435.5h1M325 438.5h1M307 451.5h1M322 442.5h1M294 452.5h1M317 446.5h1M311 450.5h1M306 430.5h1M316 429.5h1M320 445.5h1M318 429.5h1M314 429.5h1M315 429.5h1M324 433.5h1M299 434.5h1M325 439.5h1M292 450.5h1M318 446.5h1M323 433.5h1M304 430.5h1M326 435.5h1M326 434.5h1M323 441.5h1M297 453.5h1M315 447.5h1M309 429.5h1M326 437.5h1M314 448.5h1M290 446.5h1M319 446.5h1M320 430.5h1M295 437.5h1M322 444.5h1M301 431.5h1M327 433.5h1M291 442.5h1M290 445.5h1M325 440.5h1M294 453.5h1M312 428.5h1M324 432.5h1M324 441.5h1M321 431.5h1M326 432.5h1M302 430.5h1M296 454.5h1M327 432.5h1M323 443.5h1M318 428.5h1M328 433.5h1M290 448.5h1M305 429.5h1M315 448.5h1M304 429.5h1M315 428.5h1M318 447.5h1M302 454.5h1M313 450.5h1M294 454.5h1M327 438.5h1M324 431.5h1M298 434.5h1M316 448.5h1M296 455.5h1M329 434.5h1M306 453.5h1M328 431.5h1M322 446.5h1M320 428.5h1M302 429.5h1M299 455.5h1M330 433.5h1M318 427.5h1M306 428.5h1M321 447.5h1M326 430.5h1M330 434.5h1M324 430.5h1M292 438.5h1M326 441.5h1M297 456.5h1M309 427.5h1M324 444.5h1M328 439.5h1M289 449.5h1M331 432.5h1M294 456.5h1M299 456.5h1M292 454.5h1M306 427.5h1M312 452.5h1M311 426.5h1M331 431.5h1M295 435.5h1M306 454.5h1M321 448.5h1M310 426.5h1M304 427.5h1M325 428.5h1M295 457.5h1M319 426.5h1M322 427.5h1M324 427.5h1M329 439.5h1M330 429.5h1M314 452.5h1M330 437.5h1M288 450.5h1M324 426.5h1M332 428.5h1M317 450.5h1M328 428.5h1M288 451.5h1M333 427.5h1M286 446.5h1M293 434.5h1M332 426.5h1M316 453.5h1M324 448.5h1M292 434.5h1M289 439.5h1M315 422.5h1M316 424.5h1M286 443.5h1M343 421.5h1M287 436.5h1M311 454.5h1M322 424.5h1M286 436.5h1M294 459.5h1M314 421.5h1M303 457.5h1M330 445.5h1M284 442.5h1M330 443.5h1M317 455.5h1M332 439.5h1M281 441.5h1M280 443.5h1M335 430.5h1M328 447.5h1M297 430.5h1M335 435.5h1M302 460.5h1M320 456.5h1M338 437.5h1M339 421.5h1M339 433.5h1M327 423.5h1M286 455.5h1M283 452.5h1M305 422.5h1M281 457.5h1M343 430.5h1M335 448.5h1M321 416.5h1" stroke="rgb(80, 85, 165)" stroke-width="1" fill="none"/>
<path d="M295 444.5h1M295 445.5h1M311 436.5h1M295 443.5h1M299 438.5h1M296 448.5h1M313 441.5h1M295 446.5h1M313 440.5h1M312 437.5h1M300 437.5h1M310 435.5h1M295 442.5h1M313 442.5h1M313 439.5h1M303 435.5h1M311 445.5h1M310 446.5h1M302 450.5h1M297 449.5h1M312 444.5h1M313 438.5h1M301 450.5h1M295 447.5h1M301 436.5h1M305 449.5h1M312 436.5h1M303 450.5h1M307 448.5h1M311 435.5h1M309 447.5h1M296 440.5h1M307 434.5h1M313 443.5h1M313 437.5h1M306 434.5h1M300 450.5h1M308 434.5h1M314 438.5h1M295 441.5h1M314 439.5h1M314 440.5h1M294 445.5h1M314 441.5h1M297 439.5h1M315 438.5h1M309 434.5h1M314 437.5h1M302 435.5h1M305 434.5h1M294 444.5h1M315 437.5h1M295 448.5h1M296 449.5h1M312 435.5h1M313 436.5h1M294 446.5h1M316 437.5h1M314 442.5h1M310 434.5h1M299 450.5h1M315 439.5h1M294 443.5h1M304 450.5h1M316 438.5h1M304 434.5h1M298 438.5h1M311 434.5h1" stroke="rgb(50, 65, 205)" stroke-width="1" fill="none"/>
<path d="M307 390.5h1M310 392.5h1M315 391.5h1M318 387.5h1M322 389.5h1M327 393.5h1M331 392.5h1M334 391.5h1M317 398.5h1M361 391.5h1M362 387.5h1M301 416.5h1M281 452.5h1M278 461.5h1M299 470.5h1" stroke="#8088aa" stroke-width="1" fill="none"/>
<path d="M266.5 360.9H411.1V505.2" stroke="#6a6a6a" stroke-width="1.2" fill="none"/>
<path d="M266.5 360.4V505.2H411.6" stroke="#222" stroke-width="1.2" fill="none"/>
<path d="M337.8 360.9V505.2M266.5 420.0H411.1" stroke="#262626" stroke-width="1.35" fill="none"/>
<path d="M262.1 505.2H266.5M262.1 481.2H266.5M262.1 457.3H266.5M262.1 433.3H266.5M262.1 409.4H266.5M262.1 385.4H266.5M262.1 361.5H266.5M281.9 505.2V509.4M313.9 505.2V509.4M345.9 505.2V509.4M377.9 505.2V509.4M409.9 505.2V509.4" stroke="#222" stroke-width="1.1" fill="none"/>
<path d="M264.3 498.0H266.5M264.3 493.8H266.5M264.3 490.8H266.5M264.3 488.5H266.5M264.3 486.6H266.5M264.3 485.0H266.5M264.3 483.6H266.5M264.3 482.3H266.5M264.3 474.0H266.5M264.3 469.8H266.5M264.3 466.8H266.5M264.3 464.5H266.5M264.3 462.6H266.5M264.3 461.0H266.5M264.3 459.6H266.5M264.3 458.4H266.5M264.3 450.1H266.5M264.3 445.9H266.5M264.3 442.9H266.5M264.3 440.6H266.5M264.3 438.7H266.5M264.3 437.1H266.5M264.3 435.7H266.5M264.3 434.4H266.5M264.3 426.1H266.5M264.3 421.9H266.5M264.3 418.9H266.5M264.3 416.6H266.5M264.3 414.7H266.5M264.3 413.1H266.5M264.3 411.7H266.5M264.3 410.5H266.5M264.3 402.2H266.5M264.3 398.0H266.5M264.3 395.0H266.5M264.3 392.7H266.5M264.3 390.8H266.5M264.3 389.2H266.5M264.3 387.8H266.5M264.3 386.5H266.5M264.3 378.2H266.5M264.3 374.0H266.5M264.3 371.0H266.5M264.3 368.7H266.5M264.3 366.8H266.5M264.3 365.2H266.5M264.3 363.8H266.5M264.3 362.6H266.5M269.2 505.2V507.4M272.3 505.2V507.4M274.8 505.2V507.4M276.9 505.2V507.4M278.8 505.2V507.4M280.4 505.2V507.4M291.5 505.2V507.4M297.2 505.2V507.4M301.2 505.2V507.4M304.3 505.2V507.4M306.8 505.2V507.4M308.9 505.2V507.4M310.8 505.2V507.4M312.4 505.2V507.4M323.5 505.2V507.4M329.2 505.2V507.4M333.2 505.2V507.4M336.3 505.2V507.4M338.8 505.2V507.4M340.9 505.2V507.4M342.8 505.2V507.4M344.4 505.2V507.4M355.5 505.2V507.4M361.2 505.2V507.4M365.2 505.2V507.4M368.3 505.2V507.4M370.8 505.2V507.4M372.9 505.2V507.4M374.8 505.2V507.4M376.4 505.2V507.4M387.5 505.2V507.4M393.2 505.2V507.4M397.2 505.2V507.4M400.3 505.2V507.4M402.8 505.2V507.4M404.9 505.2V507.4M406.8 505.2V507.4M408.4 505.2V507.4" stroke="#333" stroke-width="0.8" fill="none"/>
<text x="259.7" y="505.4" class="a" font-size="5.3" font-weight="bold" text-anchor="end" fill="#222" textLength="8" lengthAdjust="spacingAndGlyphs">10<tspan font-size="4.5" dy="-3.2">0</tspan></text>
<text x="259.7" y="484.4" class="a" font-size="5.3" font-weight="bold" text-anchor="end" fill="#222" textLength="8" lengthAdjust="spacingAndGlyphs">10<tspan font-size="4.5" dy="-3.2">1</tspan></text>
<text x="259.7" y="460.5" class="a" font-size="5.3" font-weight="bold" text-anchor="end" fill="#222" textLength="8" lengthAdjust="spacingAndGlyphs">10<tspan font-size="4.5" dy="-3.2">2</tspan></text>
<text x="259.7" y="436.5" class="a" font-size="5.3" font-weight="bold" text-anchor="end" fill="#222" textLength="8" lengthAdjust="spacingAndGlyphs">10<tspan font-size="4.5" dy="-3.2">3</tspan></text>
<text x="259.7" y="412.6" class="a" font-size="5.3" font-weight="bold" text-anchor="end" fill="#222" textLength="8" lengthAdjust="spacingAndGlyphs">10<tspan font-size="4.5" dy="-3.2">4</tspan></text>
<text x="259.7" y="388.6" class="a" font-size="5.3" font-weight="bold" text-anchor="end" fill="#222" textLength="8" lengthAdjust="spacingAndGlyphs">10<tspan font-size="4.5" dy="-3.2">5</tspan></text>
<text x="259.7" y="369.1" class="a" font-size="5.3" font-weight="bold" text-anchor="end" fill="#222" textLength="8" lengthAdjust="spacingAndGlyphs">10<tspan font-size="4.5" dy="-3.2">6</tspan></text>
<text x="282.7" y="517.8" class="a" font-size="5.3" font-weight="bold" fill="#222" textLength="8" lengthAdjust="spacingAndGlyphs">10<tspan font-size="4.5" dy="-3.2">2</tspan></text>
<text x="314.7" y="517.8" class="a" font-size="5.3" font-weight="bold" fill="#222" textLength="8" lengthAdjust="spacingAndGlyphs">10<tspan font-size="4.5" dy="-3.2">3</tspan></text>
<text x="346.7" y="517.8" class="a" font-size="5.3" font-weight="bold" fill="#222" textLength="8" lengthAdjust="spacingAndGlyphs">10<tspan font-size="4.5" dy="-3.2">4</tspan></text>
<text x="378.7" y="517.8" class="a" font-size="5.3" font-weight="bold" fill="#222" textLength="8" lengthAdjust="spacingAndGlyphs">10<tspan font-size="4.5" dy="-3.2">5</tspan></text>
<text x="402.9" y="517.8" class="a" font-size="5.3" font-weight="bold" fill="#222" textLength="8" lengthAdjust="spacingAndGlyphs">10<tspan font-size="4.5" dy="-3.2">6</tspan></text>
<text x="268.5" y="373.0" class="a" font-size="7.3" fill="#111" textLength="12.1" lengthAdjust="spacingAndGlyphs">0.65</text>
<text x="402.3" y="373.0" class="a" font-size="7.3" fill="#111" text-anchor="end" textLength="12.1" lengthAdjust="spacingAndGlyphs">0.14</text>
<text x="268.5" y="498.0" class="a" font-size="7.3" fill="#111" textLength="12.1" lengthAdjust="spacingAndGlyphs">99.2</text>
<text x="405.7" y="498.0" class="a" font-size="7.3" fill="#111" text-anchor="end" textLength="3.4" lengthAdjust="spacingAndGlyphs">0</text>
<text x="287.2" y="355.8" class="s" font-size="13.6">Sesamoside 25 &#956;M</text>
<path d="M480 447.5h1M491 444.5h1M479 444.5h1M488 446.5h1M480 442.5h1M490 445.5h1M486 440.5h1M487 447.5h1M492 443.5h1M483 440.5h1M490 440.5h1M484 440.5h1M491 441.5h1M485 440.5h1M479 443.5h1M492 442.5h1M482 440.5h1M479 447.5h1M492 444.5h1M483 448.5h1M484 448.5h1M488 439.5h1M482 448.5h1M489 446.5h1M478 445.5h1M489 439.5h1M491 445.5h1M485 448.5h1M481 448.5h1M478 446.5h1M480 441.5h1M487 439.5h1M493 443.5h1M478 444.5h1M493 442.5h1M492 441.5h1M488 447.5h1" stroke="rgb(40, 205, 210)" stroke-width="1" fill="none"/>
<path d="M483 445.5h1M485 445.5h1M483 443.5h1M485 444.5h1M484 443.5h1M482 444.5h1M482 445.5h1M484 446.5h1" stroke="rgb(180, 230, 40)" stroke-width="1" fill="none"/>
<path d="M479 442.5h1M486 448.5h1M491 440.5h1M480 448.5h1M481 440.5h1M490 439.5h1M493 444.5h1M490 446.5h1M486 439.5h1M492 445.5h1M494 442.5h1M493 441.5h1M478 447.5h1M478 443.5h1M494 443.5h1M487 448.5h1M479 448.5h1M494 441.5h1M485 439.5h1M492 440.5h1M489 447.5h1M491 446.5h1M484 439.5h1M495 442.5h1M491 439.5h1M477 445.5h1M488 438.5h1M494 444.5h1M489 438.5h1M479 441.5h1M483 439.5h1M493 445.5h1M477 446.5h1M495 441.5h1M493 440.5h1M480 440.5h1M477 444.5h1M495 443.5h1M478 442.5h1M494 440.5h1M482 439.5h1M487 438.5h1M488 448.5h1M478 448.5h1" stroke="rgb(40, 160, 240)" stroke-width="1" fill="none"/>
<path d="M484 444.5h1M483 444.5h1" stroke="rgb(245, 160, 30)" stroke-width="1" fill="none"/>
<path d="M487 442.5h1M486 442.5h1M480 445.5h1M488 441.5h1M489 444.5h1M483 441.5h1M490 443.5h1M484 447.5h1M483 447.5h1M489 441.5h1M481 442.5h1M480 446.5h1M490 442.5h1M480 444.5h1M482 447.5h1M482 441.5h1M487 441.5h1M484 441.5h1M485 447.5h1M488 445.5h1M487 446.5h1M490 444.5h1M481 447.5h1M485 441.5h1M486 441.5h1M480 443.5h1M488 440.5h1M490 441.5h1M486 447.5h1M491 443.5h1M479 445.5h1M489 445.5h1M489 440.5h1M487 440.5h1M481 441.5h1M491 442.5h1M479 446.5h1" stroke="rgb(60, 215, 120)" stroke-width="1" fill="none"/>
<path d="M482 443.5h1M483 446.5h1M486 445.5h1M486 444.5h1M485 446.5h1M483 442.5h1M485 443.5h1M482 446.5h1M481 445.5h1M482 442.5h1M484 442.5h1M481 444.5h1M487 444.5h1M486 443.5h1M488 443.5h1M487 443.5h1M486 446.5h1M481 446.5h1M488 442.5h1M489 443.5h1M481 443.5h1M487 445.5h1M489 442.5h1M488 444.5h1M485 442.5h1" stroke="rgb(80, 225, 70)" stroke-width="1" fill="none"/>
<path d="M490 438.5h1M477 447.5h1M483 449.5h1M492 446.5h1M490 447.5h1M482 449.5h1M484 449.5h1M492 439.5h1M495 440.5h1M485 449.5h1M481 449.5h1M496 442.5h1M496 441.5h1M477 443.5h1M495 444.5h1M480 449.5h1M494 445.5h1M486 438.5h1M486 449.5h1M493 439.5h1M481 439.5h1M491 438.5h1M496 443.5h1M496 440.5h1M494 439.5h1M489 448.5h1M479 449.5h1M477 448.5h1M493 446.5h1M478 441.5h1M491 447.5h1M487 449.5h1M476 445.5h1M495 439.5h1M479 440.5h1M476 446.5h1M497 441.5h1M485 438.5h1M477 442.5h1M497 442.5h1M478 449.5h1M489 437.5h1M476 444.5h1M492 438.5h1M497 440.5h1M495 445.5h1M496 444.5h1M476 447.5h1M488 437.5h1M496 439.5h1M484 438.5h1M490 437.5h1M480 439.5h1M490 448.5h1M488 449.5h1M497 443.5h1M494 446.5h1M493 438.5h1M492 447.5h1" stroke="rgb(35, 90, 235)" stroke-width="1" fill="none"/>
<path d="M484 445.5h1" stroke="rgb(235, 70, 25)" stroke-width="1" fill="none"/>
<path d="M474 446.5h1M475 449.5h1M474 447.5h1M488 450.5h1M499 438.5h1M476 450.5h1M480 438.5h1M500 442.5h1M474 445.5h1M491 436.5h1M477 440.5h1M474 448.5h1M493 448.5h1M476 441.5h1M487 436.5h1M497 446.5h1M497 437.5h1M500 438.5h1M478 439.5h1M478 451.5h1M483 437.5h1M498 445.5h1M491 449.5h1M475 442.5h1M501 439.5h1M477 451.5h1M499 444.5h1M494 448.5h1M479 451.5h1M474 449.5h1M500 443.5h1M498 437.5h1M501 441.5h1M492 436.5h1M475 450.5h1M495 436.5h1M501 438.5h1M479 438.5h1M480 451.5h1M473 448.5h1M501 442.5h1M495 448.5h1M473 446.5h1M474 443.5h1M476 451.5h1M498 446.5h1M497 447.5h1M500 437.5h1M473 449.5h1M485 436.5h1M500 444.5h1M485 451.5h1M489 435.5h1M486 451.5h1M474 450.5h1M473 445.5h1M502 439.5h1M482 451.5h1M501 443.5h1M502 440.5h1M490 450.5h1M490 435.5h1M496 448.5h1M502 438.5h1M501 437.5h1M488 435.5h1M475 441.5h1M496 435.5h1M487 451.5h1M493 449.5h1M473 444.5h1M495 435.5h1M472 448.5h1M474 442.5h1M473 450.5h1M497 435.5h1M498 447.5h1M472 447.5h1M472 449.5h1M494 449.5h1M499 436.5h1M478 438.5h1M502 437.5h1M477 452.5h1M478 452.5h1M501 444.5h1M503 438.5h1M472 446.5h1M488 451.5h1M497 448.5h1M496 434.5h1M503 437.5h1M472 450.5h1M486 435.5h1M476 452.5h1M472 445.5h1M503 441.5h1M504 439.5h1M497 434.5h1M504 438.5h1M493 435.5h1M499 447.5h1M504 440.5h1M495 434.5h1M500 446.5h1M501 436.5h1M471 448.5h1M504 437.5h1M501 445.5h1M505 439.5h1M496 449.5h1M489 451.5h1M473 442.5h1M473 451.5h1M498 448.5h1M479 437.5h1M502 444.5h1M499 435.5h1M504 436.5h1M489 434.5h1M505 436.5h1M488 434.5h1M484 435.5h1M494 434.5h1M506 439.5h1M482 436.5h1M472 443.5h1M496 433.5h1M506 440.5h1M471 450.5h1M503 443.5h1M504 442.5h1M497 433.5h1M500 447.5h1M472 451.5h1M501 446.5h1M505 435.5h1M494 450.5h1M506 441.5h1M504 435.5h1M506 436.5h1M491 434.5h1M505 442.5h1M490 451.5h1M499 448.5h1M485 452.5h1M470 448.5h1M470 447.5h1M486 434.5h1M506 435.5h1M473 441.5h1M503 435.5h1M483 452.5h1M472 442.5h1M495 450.5h1M474 452.5h1M478 453.5h1M470 449.5h1M485 434.5h1M499 434.5h1M507 439.5h1M507 440.5h1M483 435.5h1M507 438.5h1M474 440.5h1M476 453.5h1M507 435.5h1M479 453.5h1M505 443.5h1M506 434.5h1M494 433.5h1M484 434.5h1M501 447.5h1M471 451.5h1M471 443.5h1M504 434.5h1M496 450.5h1M500 448.5h1M470 445.5h1M507 442.5h1M506 443.5h1M489 433.5h1M508 435.5h1M507 434.5h1M497 432.5h1M502 446.5h1M508 436.5h1M492 451.5h1M475 439.5h1M490 433.5h1M488 433.5h1M469 447.5h1M469 448.5h1M499 433.5h1M475 453.5h1M511 434.5h1M493 451.5h1M512 434.5h1M481 453.5h1M491 433.5h1M471 442.5h1M509 434.5h1M486 433.5h1M510 435.5h1M498 432.5h1M477 437.5h1M507 443.5h1M502 434.5h1M497 450.5h1M479 436.5h1M472 452.5h1M511 433.5h1M508 441.5h1M513 434.5h1M510 433.5h1M512 433.5h1M469 445.5h1M514 435.5h1M470 443.5h1M500 433.5h1M484 433.5h1M470 451.5h1M509 437.5h1M513 436.5h1M472 440.5h1M514 436.5h1M478 436.5h1M511 436.5h1M468 447.5h1M509 438.5h1M493 432.5h1M469 444.5h1M503 432.5h1M476 454.5h1M480 454.5h1M515 436.5h1M506 432.5h1M481 454.5h1M491 432.5h1M509 442.5h1M512 432.5h1M515 434.5h1M468 449.5h1M503 431.5h1M483 433.5h1M509 432.5h1M487 432.5h1M505 445.5h1M509 443.5h1M504 430.5h1M508 444.5h1M515 437.5h1M501 449.5h1M493 452.5h1M506 445.5h1M501 431.5h1M514 438.5h1M471 440.5h1M500 431.5h1M484 454.5h1M502 430.5h1M504 429.5h1M469 451.5h1M516 435.5h1M514 432.5h1M505 429.5h1M507 445.5h1M472 439.5h1M510 441.5h1M508 431.5h1M501 430.5h1M500 450.5h1M512 438.5h1M514 439.5h1M505 428.5h1M515 432.5h1M483 455.5h1M511 443.5h1M507 430.5h1M466 448.5h1M498 451.5h1M492 431.5h1M466 449.5h1M497 430.5h1M466 447.5h1M515 439.5h1M506 428.5h1M489 431.5h1M496 452.5h1M487 454.5h1M509 430.5h1M512 443.5h1M517 435.5h1M485 455.5h1M515 431.5h1M482 432.5h1M504 427.5h1M517 433.5h1M513 441.5h1M465 450.5h1M467 443.5h1M464 449.5h1M481 456.5h1M498 429.5h1M505 426.5h1M510 429.5h1M514 429.5h1M464 446.5h1M481 432.5h1M477 434.5h1M513 428.5h1M465 443.5h1M463 451.5h1M512 428.5h1M503 450.5h1M519 431.5h1M487 456.5h1M463 444.5h1M505 448.5h1M509 447.5h1M493 454.5h1M519 430.5h1M506 424.5h1M462 451.5h1M462 445.5h1M508 448.5h1M489 458.5h1M508 423.5h1M502 452.5h1M532 430.5h1M517 428.5h1M496 427.5h1M497 426.5h1M500 427.5h1M533 429.5h1M468 438.5h1M490 456.5h1M520 434.5h1M521 432.5h1M467 438.5h1M466 453.5h1M464 439.5h1M489 459.5h1M518 439.5h1M461 448.5h1M463 439.5h1M511 452.5h1M474 435.5h1M477 432.5h1M510 453.5h1M477 457.5h1M532 432.5h1M532 427.5h1M517 426.5h1M512 449.5h1M502 455.5h1M467 455.5h1M481 429.5h1M499 455.5h1M498 423.5h1M521 439.5h1M515 448.5h1M502 422.5h1M506 455.5h1M492 425.5h1M524 442.5h1M530 420.5h1" stroke="rgb(80, 85, 165)" stroke-width="1" fill="none"/>
<path d="M483 438.5h1M498 441.5h1M476 443.5h1M477 449.5h1M487 437.5h1M494 438.5h1M498 440.5h1M497 439.5h1M476 448.5h1M498 442.5h1M495 438.5h1M491 437.5h1M482 438.5h1M496 445.5h1M475 446.5h1M493 447.5h1M477 441.5h1M497 444.5h1M478 440.5h1M489 449.5h1M495 446.5h1M475 445.5h1M496 438.5h1M498 439.5h1M486 437.5h1M479 450.5h1M491 448.5h1M480 450.5h1M499 440.5h1M478 450.5h1M481 450.5h1M475 447.5h1M485 450.5h1M499 441.5h1M482 450.5h1M484 450.5h1M483 450.5h1M498 443.5h1M476 442.5h1M486 450.5h1M492 437.5h1M479 439.5h1M476 449.5h1M475 444.5h1M481 438.5h1M499 439.5h1M497 438.5h1M499 442.5h1M477 450.5h1M494 447.5h1M475 448.5h1M485 437.5h1M487 450.5h1M493 437.5h1M489 436.5h1M496 446.5h1M497 445.5h1M494 437.5h1M500 440.5h1M490 449.5h1M492 448.5h1M490 436.5h1M495 437.5h1M498 438.5h1M498 444.5h1M475 443.5h1M488 436.5h1M500 441.5h1M500 439.5h1M495 447.5h1M499 443.5h1M496 437.5h1M484 437.5h1" stroke="rgb(50, 65, 205)" stroke-width="1" fill="none"/>
<path d="M497 382.5h1M499 386.5h1M501 397.5h1M503 399.5h1M490 400.5h1M477 409.5h1M487 413.5h1M488 416.5h1M510 392.5h1M514 395.5h1M511 408.5h1M527 400.5h1M533 394.5h1M527 424.5h1M537 427.5h1M528 431.5h1M514 425.5h1" stroke="#8088aa" stroke-width="1" fill="none"/>
<path d="M447.5 361.5H592.5V505.9" stroke="#6a6a6a" stroke-width="1.2" fill="none"/>
<path d="M447.5 361.0V505.9H593.0" stroke="#222" stroke-width="1.2" fill="none"/>
<path d="M519.4 361.5V505.9M447.5 420.5H592.5" stroke="#262626" stroke-width="1.35" fill="none"/>
<path d="M443.1 505.9H447.5M443.1 481.9H447.5M443.1 458.0H447.5M443.1 434.0H447.5M443.1 410.0H447.5M443.1 386.1H447.5M443.1 362.1H447.5M463.3 505.9V510.1M495.3 505.9V510.1M527.3 505.9V510.1M559.3 505.9V510.1M591.3 505.9V510.1" stroke="#222" stroke-width="1.1" fill="none"/>
<path d="M445.3 498.7H447.5M445.3 494.5H447.5M445.3 491.5H447.5M445.3 489.1H447.5M445.3 487.3H447.5M445.3 485.6H447.5M445.3 484.3H447.5M445.3 483.0H447.5M445.3 474.7H447.5M445.3 470.5H447.5M445.3 467.5H447.5M445.3 465.2H447.5M445.3 463.3H447.5M445.3 461.7H447.5M445.3 460.3H447.5M445.3 459.1H447.5M445.3 450.8H447.5M445.3 446.5H447.5M445.3 443.5H447.5M445.3 441.2H447.5M445.3 439.3H447.5M445.3 437.7H447.5M445.3 436.3H447.5M445.3 435.1H447.5M445.3 426.8H447.5M445.3 422.6H447.5M445.3 419.6H447.5M445.3 417.2H447.5M445.3 415.4H447.5M445.3 413.7H447.5M445.3 412.4H447.5M445.3 411.1H447.5M445.3 402.8H447.5M445.3 398.6H447.5M445.3 395.6H447.5M445.3 393.3H447.5M445.3 391.4H447.5M445.3 389.8H447.5M445.3 388.4H447.5M445.3 387.2H447.5M445.3 378.9H447.5M445.3 374.6H447.5M445.3 371.6H447.5M445.3 369.3H447.5M445.3 367.4H447.5M445.3 365.8H447.5M445.3 364.4H447.5M445.3 363.2H447.5M450.6 505.9V508.1M453.7 505.9V508.1M456.2 505.9V508.1M458.3 505.9V508.1M460.2 505.9V508.1M461.8 505.9V508.1M472.9 505.9V508.1M478.6 505.9V508.1M482.6 505.9V508.1M485.7 505.9V508.1M488.2 505.9V508.1M490.3 505.9V508.1M492.2 505.9V508.1M493.8 505.9V508.1M504.9 505.9V508.1M510.6 505.9V508.1M514.6 505.9V508.1M517.7 505.9V508.1M520.2 505.9V508.1M522.3 505.9V508.1M524.2 505.9V508.1M525.8 505.9V508.1M536.9 505.9V508.1M542.6 505.9V508.1M546.6 505.9V508.1M549.7 505.9V508.1M552.2 505.9V508.1M554.3 505.9V508.1M556.2 505.9V508.1M557.8 505.9V508.1M568.9 505.9V508.1M574.6 505.9V508.1M578.6 505.9V508.1M581.7 505.9V508.1M584.2 505.9V508.1M586.3 505.9V508.1M588.2 505.9V508.1M589.8 505.9V508.1" stroke="#333" stroke-width="0.8" fill="none"/>
<text x="440.7" y="506.1" class="a" font-size="5.3" font-weight="bold" text-anchor="end" fill="#222" textLength="8" lengthAdjust="spacingAndGlyphs">10<tspan font-size="4.5" dy="-3.2">0</tspan></text>
<text x="440.7" y="485.1" class="a" font-size="5.3" font-weight="bold" text-anchor="end" fill="#222" textLength="8" lengthAdjust="spacingAndGlyphs">10<tspan font-size="4.5" dy="-3.2">1</tspan></text>
<text x="440.7" y="461.2" class="a" font-size="5.3" font-weight="bold" text-anchor="end" fill="#222" textLength="8" lengthAdjust="spacingAndGlyphs">10<tspan font-size="4.5" dy="-3.2">2</tspan></text>
<text x="440.7" y="437.2" class="a" font-size="5.3" font-weight="bold" text-anchor="end" fill="#222" textLength="8" lengthAdjust="spacingAndGlyphs">10<tspan font-size="4.5" dy="-3.2">3</tspan></text>
<text x="440.7" y="413.2" class="a" font-size="5.3" font-weight="bold" text-anchor="end" fill="#222" textLength="8" lengthAdjust="spacingAndGlyphs">10<tspan font-size="4.5" dy="-3.2">4</tspan></text>
<text x="440.7" y="389.3" class="a" font-size="5.3" font-weight="bold" text-anchor="end" fill="#222" textLength="8" lengthAdjust="spacingAndGlyphs">10<tspan font-size="4.5" dy="-3.2">5</tspan></text>
<text x="440.7" y="369.7" class="a" font-size="5.3" font-weight="bold" text-anchor="end" fill="#222" textLength="8" lengthAdjust="spacingAndGlyphs">10<tspan font-size="4.5" dy="-3.2">6</tspan></text>
<text x="464.1" y="518.5" class="a" font-size="5.3" font-weight="bold" fill="#222" textLength="8" lengthAdjust="spacingAndGlyphs">10<tspan font-size="4.5" dy="-3.2">2</tspan></text>
<text x="496.1" y="518.5" class="a" font-size="5.3" font-weight="bold" fill="#222" textLength="8" lengthAdjust="spacingAndGlyphs">10<tspan font-size="4.5" dy="-3.2">3</tspan></text>
<text x="528.1" y="518.5" class="a" font-size="5.3" font-weight="bold" fill="#222" textLength="8" lengthAdjust="spacingAndGlyphs">10<tspan font-size="4.5" dy="-3.2">4</tspan></text>
<text x="560.1" y="518.5" class="a" font-size="5.3" font-weight="bold" fill="#222" textLength="8" lengthAdjust="spacingAndGlyphs">10<tspan font-size="4.5" dy="-3.2">5</tspan></text>
<text x="584.3" y="518.5" class="a" font-size="5.3" font-weight="bold" fill="#222" textLength="8" lengthAdjust="spacingAndGlyphs">10<tspan font-size="4.5" dy="-3.2">6</tspan></text>
<text x="449.5" y="373.6" class="a" font-size="7.3" fill="#111" textLength="12.1" lengthAdjust="spacingAndGlyphs">0.44</text>
<text x="581.5" y="373.6" class="a" font-size="7.3" fill="#111" text-anchor="end" textLength="15.5" lengthAdjust="spacingAndGlyphs">0.088</text>
<text x="449.5" y="498.7" class="a" font-size="7.3" fill="#111" textLength="12.1" lengthAdjust="spacingAndGlyphs">99.1</text>
<text x="583.7" y="498.7" class="a" font-size="7.3" fill="#111" text-anchor="end" textLength="12.1" lengthAdjust="spacingAndGlyphs">0.41</text>
<text x="468.5" y="356.2" class="s" font-size="13.6">Sesamoside 50 &#956;M</text>
<path d="M119 634.5h1M120 628.5h1M125 627.5h1M124 627.5h1M126 627.5h1M125 634.5h1M123 627.5h1M128 632.5h1M122 635.5h1M128 628.5h1M121 635.5h1M117 632.5h1M129 630.5h1M117 631.5h1M129 629.5h1M123 635.5h1M127 633.5h1M122 627.5h1M129 631.5h1M120 635.5h1M118 634.5h1M127 627.5h1M117 633.5h1M118 629.5h1M119 628.5h1M121 627.5h1M129 628.5h1M117 630.5h1M124 635.5h1M126 634.5h1M119 635.5h1" stroke="rgb(40, 205, 210)" stroke-width="1" fill="none"/>
<path d="M121 631.5h1M121 632.5h1M123 632.5h1M122 630.5h1M123 630.5h1M124 631.5h1" stroke="rgb(180, 230, 40)" stroke-width="1" fill="none"/>
<path d="M128 627.5h1M129 632.5h1M128 633.5h1M125 626.5h1M130 630.5h1M130 629.5h1M126 626.5h1M117 634.5h1M120 627.5h1M124 626.5h1M116 632.5h1M129 627.5h1M125 635.5h1M118 635.5h1M116 631.5h1M130 628.5h1M130 631.5h1M127 634.5h1M127 626.5h1M123 626.5h1M116 633.5h1M121 636.5h1M122 636.5h1M117 629.5h1M120 636.5h1M130 627.5h1M118 628.5h1M128 626.5h1M129 633.5h1M123 636.5h1M116 630.5h1M122 626.5h1M130 632.5h1M126 635.5h1M117 635.5h1M119 627.5h1M129 626.5h1M119 636.5h1" stroke="rgb(40, 160, 240)" stroke-width="1" fill="none"/>
<path d="M123 631.5h1M122 632.5h1" stroke="rgb(245, 160, 30)" stroke-width="1" fill="none"/>
<path d="M119 632.5h1M126 629.5h1M120 629.5h1M127 630.5h1M122 634.5h1M119 630.5h1M126 632.5h1M127 631.5h1M121 634.5h1M124 628.5h1M123 628.5h1M119 633.5h1M123 634.5h1M125 628.5h1M122 628.5h1M127 629.5h1M125 633.5h1M118 632.5h1M118 631.5h1M126 628.5h1M120 634.5h1M121 628.5h1M128 630.5h1M127 632.5h1M124 634.5h1M128 631.5h1M119 629.5h1M128 629.5h1M127 628.5h1M118 633.5h1M126 633.5h1M118 630.5h1" stroke="rgb(60, 215, 120)" stroke-width="1" fill="none"/>
<path d="M121 630.5h1M124 630.5h1M120 631.5h1M124 632.5h1M122 633.5h1M120 632.5h1M121 633.5h1M123 633.5h1M125 631.5h1M125 630.5h1M123 629.5h1M122 629.5h1M120 630.5h1M124 629.5h1M121 629.5h1M125 632.5h1M126 630.5h1M120 633.5h1M125 629.5h1M126 631.5h1M119 631.5h1M124 633.5h1" stroke="rgb(80, 225, 70)" stroke-width="1" fill="none"/>
<path d="M131 629.5h1M131 628.5h1M116 634.5h1M128 634.5h1M131 630.5h1M124 636.5h1M130 626.5h1M121 626.5h1M131 627.5h1M118 636.5h1M126 625.5h1M131 631.5h1M125 625.5h1M127 625.5h1M115 632.5h1M127 635.5h1M125 636.5h1M131 626.5h1M120 626.5h1M115 631.5h1M124 625.5h1M116 635.5h1M130 633.5h1M116 629.5h1M132 628.5h1M128 625.5h1M132 629.5h1M115 633.5h1M117 628.5h1M117 636.5h1M129 625.5h1M129 634.5h1M131 632.5h1M132 627.5h1M130 625.5h1M132 630.5h1M118 627.5h1M123 625.5h1M115 630.5h1M121 637.5h1M115 634.5h1M126 636.5h1M120 637.5h1M122 637.5h1M131 625.5h1M132 631.5h1M132 626.5h1M128 635.5h1M119 626.5h1M119 637.5h1" stroke="rgb(35, 90, 235)" stroke-width="1" fill="none"/>
<path d="M122 631.5h1" stroke="rgb(235, 70, 25)" stroke-width="1" fill="none"/>
<path d="M130 623.5h1M122 638.5h1M135 627.5h1M119 638.5h1M131 623.5h1M129 623.5h1M115 637.5h1M134 632.5h1M133 624.5h1M118 638.5h1M116 627.5h1M130 635.5h1M128 623.5h1M123 638.5h1M127 623.5h1M114 629.5h1M114 636.5h1M136 629.5h1M117 638.5h1M136 628.5h1M126 623.5h1M135 631.5h1M132 623.5h1M121 624.5h1M117 626.5h1M124 638.5h1M116 638.5h1M125 623.5h1M132 634.5h1M113 632.5h1M113 633.5h1M120 624.5h1M134 624.5h1M134 633.5h1M113 634.5h1M113 631.5h1M135 632.5h1M133 623.5h1M118 625.5h1M125 638.5h1M114 637.5h1M113 635.5h1M137 628.5h1M135 625.5h1M124 623.5h1M115 627.5h1M115 638.5h1M113 630.5h1M131 635.5h1M136 626.5h1M130 622.5h1M131 622.5h1M133 634.5h1M129 622.5h1M137 627.5h1M134 623.5h1M137 630.5h1M113 636.5h1M126 638.5h1M135 624.5h1M128 637.5h1M119 624.5h1M128 622.5h1M116 626.5h1M123 623.5h1M135 633.5h1M136 625.5h1M127 622.5h1M121 639.5h1M113 629.5h1M138 629.5h1M137 626.5h1M119 639.5h1M122 639.5h1M136 632.5h1M133 622.5h1M118 639.5h1M117 639.5h1M135 623.5h1M136 624.5h1M130 636.5h1M114 638.5h1M122 623.5h1M126 622.5h1M140 624.5h1M134 634.5h1M138 627.5h1M116 639.5h1M137 625.5h1M138 624.5h1M113 637.5h1M137 631.5h1M139 623.5h1M140 625.5h1M138 630.5h1M121 623.5h1M141 624.5h1M139 625.5h1M138 623.5h1M138 626.5h1M140 623.5h1M141 625.5h1M136 623.5h1M112 634.5h1M112 635.5h1M139 629.5h1M115 639.5h1M115 626.5h1M139 627.5h1M113 628.5h1M120 623.5h1M118 624.5h1M141 623.5h1M131 621.5h1M135 622.5h1M141 626.5h1M136 633.5h1M140 627.5h1M142 624.5h1M139 630.5h1M135 634.5h1M138 622.5h1M140 628.5h1M112 630.5h1M137 622.5h1M128 621.5h1M131 636.5h1M140 629.5h1M141 627.5h1M133 621.5h1M140 622.5h1M142 626.5h1M127 621.5h1M112 637.5h1M142 623.5h1M113 627.5h1M134 621.5h1M126 639.5h1M140 630.5h1M134 635.5h1M119 640.5h1M126 621.5h1M111 635.5h1M139 631.5h1M135 621.5h1M116 640.5h1M111 636.5h1M122 622.5h1M143 625.5h1M143 624.5h1M113 639.5h1M132 636.5h1M136 621.5h1M130 620.5h1M137 633.5h1M142 628.5h1M139 621.5h1M123 640.5h1M132 620.5h1M125 621.5h1M129 620.5h1M113 626.5h1M114 640.5h1M141 630.5h1M111 637.5h1M111 632.5h1M127 639.5h1M135 635.5h1M114 625.5h1M143 627.5h1M110 635.5h1M134 620.5h1M129 638.5h1M127 620.5h1M113 640.5h1M143 628.5h1M110 634.5h1M111 629.5h1M120 641.5h1M125 640.5h1M119 641.5h1M121 641.5h1M142 630.5h1M138 633.5h1M119 622.5h1M118 641.5h1M137 634.5h1M144 624.5h1M115 624.5h1M109 635.5h1M132 619.5h1M109 636.5h1M122 641.5h1M111 628.5h1M115 641.5h1M126 640.5h1M129 619.5h1M138 620.5h1M122 621.5h1M139 620.5h1M114 624.5h1M132 637.5h1M144 628.5h1M142 631.5h1M128 619.5h1M113 641.5h1M143 630.5h1M110 629.5h1M107 636.5h1M141 620.5h1M131 618.5h1M119 642.5h1M143 621.5h1M111 640.5h1M107 635.5h1M109 631.5h1M132 618.5h1M144 622.5h1M108 632.5h1M107 631.5h1M135 619.5h1M140 633.5h1M111 626.5h1M106 636.5h1M108 638.5h1M108 630.5h1M106 631.5h1M134 637.5h1M113 642.5h1M106 637.5h1M145 629.5h1M110 640.5h1M107 638.5h1M143 619.5h1M106 630.5h1M110 627.5h1M132 638.5h1M132 617.5h1M143 632.5h1M130 617.5h1M124 619.5h1M105 631.5h1M108 639.5h1M105 636.5h1M144 618.5h1M142 633.5h1M145 619.5h1M115 643.5h1M141 618.5h1M105 634.5h1M125 642.5h1M112 643.5h1M114 622.5h1M147 628.5h1M125 618.5h1M142 617.5h1M147 626.5h1M147 629.5h1M120 644.5h1M104 631.5h1M119 620.5h1M147 624.5h1M148 621.5h1M106 628.5h1M149 620.5h1M117 644.5h1M146 632.5h1M149 621.5h1M127 642.5h1M133 616.5h1M138 637.5h1M129 616.5h1M112 622.5h1M148 625.5h1M123 618.5h1M149 619.5h1M147 632.5h1M140 636.5h1M119 645.5h1M145 634.5h1M139 638.5h1M131 645.5h1M130 644.5h1M111 644.5h1M143 615.5h1M154 624.5h1M154 623.5h1M152 623.5h1M132 645.5h1M137 640.5h1M105 641.5h1M104 627.5h1M145 615.5h1M128 645.5h1M150 629.5h1M138 641.5h1M105 642.5h1M152 627.5h1M147 635.5h1M115 646.5h1M149 616.5h1M105 625.5h1M135 613.5h1M154 629.5h1M111 620.5h1M137 613.5h1M116 619.5h1M156 627.5h1M151 614.5h1M101 636.5h1M120 615.5h1M139 609.5h1M166 619.5h1M147 607.5h1" stroke="rgb(80, 85, 165)" stroke-width="1" fill="none"/>
<path d="M133 628.5h1M116 636.5h1M123 637.5h1M133 629.5h1M122 625.5h1M118 637.5h1M133 627.5h1M115 635.5h1M131 633.5h1M133 630.5h1M132 632.5h1M124 637.5h1M126 624.5h1M130 634.5h1M132 625.5h1M121 625.5h1M130 624.5h1M127 624.5h1M116 628.5h1M129 624.5h1M127 636.5h1M125 624.5h1M117 637.5h1M115 629.5h1M128 624.5h1M133 631.5h1M134 628.5h1M134 629.5h1M131 624.5h1M133 626.5h1M114 632.5h1M117 627.5h1M125 637.5h1M114 631.5h1M129 635.5h1M120 625.5h1M114 633.5h1M115 636.5h1M134 630.5h1M124 624.5h1M134 627.5h1M118 626.5h1M116 637.5h1M114 634.5h1M133 632.5h1M132 624.5h1M132 633.5h1M133 625.5h1M114 630.5h1M135 629.5h1M135 628.5h1M134 631.5h1M126 637.5h1M131 634.5h1M114 635.5h1M128 636.5h1M123 624.5h1M134 626.5h1M119 625.5h1M135 630.5h1M121 638.5h1M120 638.5h1M115 628.5h1" stroke="rgb(50, 65, 205)" stroke-width="1" fill="none"/>
<path d="M147 573.5h1M148 575.5h1M151 578.5h1M142 581.5h1M145 588.5h1M140 587.5h1M127 592.5h1M121 598.5h1M133 604.5h1M174 580.5h1M172 584.5h1M158 592.5h1M160 598.5h1M153 620.5h1M155 625.5h1M160 627.5h1M162 630.5h1" stroke="#8088aa" stroke-width="1" fill="none"/>
<path d="M86.4 550.2H231.4V694.3" stroke="#6a6a6a" stroke-width="1.2" fill="none"/>
<path d="M86.4 549.7V694.3H231.9" stroke="#222" stroke-width="1.2" fill="none"/>
<path d="M157.7 550.2V694.3M86.4 609.1H231.4" stroke="#262626" stroke-width="1.35" fill="none"/>
<path d="M82.0 694.3H86.4M82.0 670.4H86.4M82.0 646.5H86.4M82.0 622.5H86.4M82.0 598.6H86.4M82.0 574.7H86.4M82.0 550.8H86.4M102.2 694.3V698.5M134.2 694.3V698.5M166.2 694.3V698.5M198.2 694.3V698.5M230.2 694.3V698.5" stroke="#222" stroke-width="1.1" fill="none"/>
<path d="M84.2 687.1H86.4M84.2 682.9H86.4M84.2 679.9H86.4M84.2 677.6H86.4M84.2 675.7H86.4M84.2 674.1H86.4M84.2 672.7H86.4M84.2 671.5H86.4M84.2 663.2H86.4M84.2 659.0H86.4M84.2 656.0H86.4M84.2 653.7H86.4M84.2 651.8H86.4M84.2 650.2H86.4M84.2 648.8H86.4M84.2 647.6H86.4M84.2 639.3H86.4M84.2 635.1H86.4M84.2 632.1H86.4M84.2 629.7H86.4M84.2 627.9H86.4M84.2 626.3H86.4M84.2 624.9H86.4M84.2 623.6H86.4M84.2 615.4H86.4M84.2 611.1H86.4M84.2 608.2H86.4M84.2 605.8H86.4M84.2 603.9H86.4M84.2 602.3H86.4M84.2 601.0H86.4M84.2 599.7H86.4M84.2 591.4H86.4M84.2 587.2H86.4M84.2 584.2H86.4M84.2 581.9H86.4M84.2 580.0H86.4M84.2 578.4H86.4M84.2 577.0H86.4M84.2 575.8H86.4M84.2 567.5H86.4M84.2 563.3H86.4M84.2 560.3H86.4M84.2 558.0H86.4M84.2 556.1H86.4M84.2 554.5H86.4M84.2 553.1H86.4M84.2 551.9H86.4M89.5 694.3V696.5M92.6 694.3V696.5M95.1 694.3V696.5M97.2 694.3V696.5M99.1 694.3V696.5M100.7 694.3V696.5M111.8 694.3V696.5M117.5 694.3V696.5M121.5 694.3V696.5M124.6 694.3V696.5M127.1 694.3V696.5M129.2 694.3V696.5M131.1 694.3V696.5M132.7 694.3V696.5M143.8 694.3V696.5M149.5 694.3V696.5M153.5 694.3V696.5M156.6 694.3V696.5M159.1 694.3V696.5M161.2 694.3V696.5M163.1 694.3V696.5M164.7 694.3V696.5M175.8 694.3V696.5M181.5 694.3V696.5M185.5 694.3V696.5M188.6 694.3V696.5M191.1 694.3V696.5M193.2 694.3V696.5M195.1 694.3V696.5M196.7 694.3V696.5M207.8 694.3V696.5M213.5 694.3V696.5M217.5 694.3V696.5M220.6 694.3V696.5M223.1 694.3V696.5M225.2 694.3V696.5M227.1 694.3V696.5M228.7 694.3V696.5" stroke="#333" stroke-width="0.8" fill="none"/>
<text x="79.6" y="694.5" class="a" font-size="5.3" font-weight="bold" text-anchor="end" fill="#222" textLength="8" lengthAdjust="spacingAndGlyphs">10<tspan font-size="4.5" dy="-3.2">0</tspan></text>
<text x="79.6" y="673.6" class="a" font-size="5.3" font-weight="bold" text-anchor="end" fill="#222" textLength="8" lengthAdjust="spacingAndGlyphs">10<tspan font-size="4.5" dy="-3.2">1</tspan></text>
<text x="79.6" y="649.7" class="a" font-size="5.3" font-weight="bold" text-anchor="end" fill="#222" textLength="8" lengthAdjust="spacingAndGlyphs">10<tspan font-size="4.5" dy="-3.2">2</tspan></text>
<text x="79.6" y="625.8" class="a" font-size="5.3" font-weight="bold" text-anchor="end" fill="#222" textLength="8" lengthAdjust="spacingAndGlyphs">10<tspan font-size="4.5" dy="-3.2">3</tspan></text>
<text x="79.6" y="601.8" class="a" font-size="5.3" font-weight="bold" text-anchor="end" fill="#222" textLength="8" lengthAdjust="spacingAndGlyphs">10<tspan font-size="4.5" dy="-3.2">4</tspan></text>
<text x="79.6" y="577.9" class="a" font-size="5.3" font-weight="bold" text-anchor="end" fill="#222" textLength="8" lengthAdjust="spacingAndGlyphs">10<tspan font-size="4.5" dy="-3.2">5</tspan></text>
<text x="79.6" y="558.4" class="a" font-size="5.3" font-weight="bold" text-anchor="end" fill="#222" textLength="8" lengthAdjust="spacingAndGlyphs">10<tspan font-size="4.5" dy="-3.2">6</tspan></text>
<text x="103.0" y="706.9" class="a" font-size="5.3" font-weight="bold" fill="#222" textLength="8" lengthAdjust="spacingAndGlyphs">10<tspan font-size="4.5" dy="-3.2">2</tspan></text>
<text x="135.0" y="706.9" class="a" font-size="5.3" font-weight="bold" fill="#222" textLength="8" lengthAdjust="spacingAndGlyphs">10<tspan font-size="4.5" dy="-3.2">3</tspan></text>
<text x="167.0" y="706.9" class="a" font-size="5.3" font-weight="bold" fill="#222" textLength="8" lengthAdjust="spacingAndGlyphs">10<tspan font-size="4.5" dy="-3.2">4</tspan></text>
<text x="199.0" y="706.9" class="a" font-size="5.3" font-weight="bold" fill="#222" textLength="8" lengthAdjust="spacingAndGlyphs">10<tspan font-size="4.5" dy="-3.2">5</tspan></text>
<text x="223.2" y="706.9" class="a" font-size="5.3" font-weight="bold" fill="#222" textLength="8" lengthAdjust="spacingAndGlyphs">10<tspan font-size="4.5" dy="-3.2">6</tspan></text>
<text x="88.4" y="562.3" class="a" font-size="7.3" fill="#111" textLength="12.1" lengthAdjust="spacingAndGlyphs">0.30</text>
<text x="220.4" y="562.3" class="a" font-size="7.3" fill="#111" text-anchor="end" textLength="15.5" lengthAdjust="spacingAndGlyphs">0.091</text>
<text x="88.4" y="687.1" class="a" font-size="7.3" fill="#111" textLength="12.1" lengthAdjust="spacingAndGlyphs">99.5</text>
<text x="220.4" y="687.1" class="a" font-size="7.3" fill="#111" text-anchor="end" textLength="15.5" lengthAdjust="spacingAndGlyphs">0.060</text>
<text x="107.2" y="545.1" class="s" font-size="13.6">Sesamoside 100 &#956;M</text>
<path d="M300 637.5h1M307 635.5h1M301 630.5h1M306 636.5h1M308 634.5h1M298 636.5h1M305 637.5h1M305 629.5h1M308 630.5h1M304 629.5h1M299 637.5h1M306 629.5h1M298 632.5h1M309 632.5h1M297 634.5h1M303 629.5h1M302 638.5h1M309 633.5h1M299 631.5h1M303 638.5h1M297 635.5h1M309 631.5h1M307 629.5h1M301 638.5h1M308 635.5h1M302 629.5h1M297 633.5h1M309 634.5h1M309 630.5h1M300 630.5h1M308 629.5h1M304 638.5h1M298 637.5h1" stroke="rgb(40, 205, 210)" stroke-width="1" fill="none"/>
<path d="M302 634.5h1M304 633.5h1M304 634.5h1M303 632.5h1M301 634.5h1M301 633.5h1M303 635.5h1" stroke="rgb(180, 230, 40)" stroke-width="1" fill="none"/>
<path d="M307 636.5h1M297 636.5h1M300 638.5h1M309 629.5h1M310 631.5h1M310 632.5h1M310 630.5h1M310 633.5h1M301 629.5h1M305 628.5h1M306 628.5h1M306 637.5h1M304 628.5h1M309 635.5h1M310 629.5h1M307 628.5h1M297 632.5h1M310 634.5h1M298 631.5h1M299 638.5h1M308 628.5h1M303 628.5h1M309 628.5h1M310 628.5h1M311 630.5h1M308 636.5h1M297 637.5h1M296 634.5h1M299 630.5h1M311 629.5h1M305 638.5h1M311 631.5h1M296 635.5h1M302 628.5h1M302 639.5h1M311 632.5h1M305 627.5h1M310 635.5h1M306 627.5h1M296 633.5h1" stroke="rgb(40, 160, 240)" stroke-width="1" fill="none"/>
<path d="M303 634.5h1M302 633.5h1" stroke="rgb(245, 160, 30)" stroke-width="1" fill="none"/>
<path d="M299 634.5h1M301 636.5h1M300 632.5h1M306 631.5h1M299 633.5h1M299 635.5h1M301 631.5h1M307 632.5h1M307 633.5h1M300 636.5h1M306 635.5h1M305 636.5h1M304 630.5h1M307 631.5h1M303 637.5h1M305 630.5h1M307 634.5h1M303 630.5h1M302 637.5h1M298 634.5h1M299 632.5h1M306 630.5h1M299 636.5h1M302 630.5h1M298 635.5h1M301 637.5h1M304 637.5h1M300 631.5h1M308 632.5h1M298 633.5h1M308 633.5h1M307 630.5h1M308 631.5h1" stroke="rgb(60, 215, 120)" stroke-width="1" fill="none"/>
<path d="M304 632.5h1M302 632.5h1M302 635.5h1M305 633.5h1M304 635.5h1M305 634.5h1M305 632.5h1M301 635.5h1M300 634.5h1M301 632.5h1M300 633.5h1M303 631.5h1M304 631.5h1M306 633.5h1M303 636.5h1M305 635.5h1M300 635.5h1M306 632.5h1M302 636.5h1M302 631.5h1M305 631.5h1M306 634.5h1M304 636.5h1" stroke="rgb(80, 225, 70)" stroke-width="1" fill="none"/>
<path d="M307 627.5h1M301 639.5h1M298 638.5h1M311 633.5h1M304 627.5h1M303 639.5h1M308 627.5h1M300 629.5h1M311 628.5h1M309 627.5h1M296 636.5h1M309 636.5h1M311 634.5h1M307 637.5h1M310 627.5h1M300 639.5h1M303 627.5h1M312 630.5h1M312 629.5h1M297 631.5h1M301 628.5h1M306 626.5h1M305 626.5h1M307 626.5h1M312 631.5h1M296 632.5h1M304 639.5h1M308 626.5h1M304 626.5h1M312 628.5h1M311 627.5h1M297 638.5h1M312 632.5h1M311 635.5h1M299 639.5h1M296 637.5h1M310 636.5h1M298 630.5h1M309 626.5h1M302 627.5h1M306 638.5h1M312 633.5h1M303 626.5h1M308 637.5h1M299 629.5h1M310 626.5h1M306 625.5h1M312 627.5h1M307 625.5h1M305 625.5h1M312 634.5h1M313 629.5h1M295 634.5h1" stroke="rgb(35, 90, 235)" stroke-width="1" fill="none"/>
<path d="M303 633.5h1" stroke="rgb(235, 70, 25)" stroke-width="1" fill="none"/>
<path d="M312 625.5h1M294 633.5h1M316 627.5h1M294 634.5h1M314 633.5h1M310 624.5h1M315 629.5h1M294 635.5h1M316 626.5h1M310 638.5h1M316 628.5h1M294 636.5h1M295 639.5h1M314 625.5h1M297 640.5h1M303 624.5h1M315 630.5h1M311 624.5h1M314 634.5h1M317 627.5h1M312 637.5h1M317 626.5h1M295 630.5h1M294 638.5h1M301 641.5h1M300 641.5h1M315 631.5h1M313 636.5h1M298 628.5h1M312 624.5h1M299 627.5h1M316 625.5h1M307 623.5h1M294 631.5h1M315 632.5h1M307 639.5h1M300 626.5h1M317 628.5h1M313 624.5h1M299 641.5h1M317 625.5h1M310 623.5h1M315 633.5h1M303 641.5h1M318 627.5h1M318 626.5h1M294 639.5h1M311 623.5h1M302 624.5h1M316 630.5h1M314 623.5h1M318 628.5h1M309 639.5h1M318 625.5h1M317 629.5h1M295 640.5h1M315 634.5h1M313 637.5h1M317 624.5h1M315 623.5h1M294 630.5h1M293 634.5h1M293 637.5h1M314 636.5h1M313 622.5h1M298 627.5h1M293 632.5h1M293 638.5h1M312 622.5h1M314 622.5h1M319 627.5h1M316 632.5h1M299 626.5h1M316 623.5h1M319 628.5h1M315 635.5h1M311 639.5h1M309 622.5h1M303 623.5h1M293 639.5h1M308 622.5h1M296 628.5h1M318 630.5h1M296 641.5h1M313 621.5h1M319 630.5h1M314 637.5h1M301 624.5h1M301 642.5h1M314 621.5h1M317 632.5h1M299 642.5h1M319 624.5h1M320 627.5h1M312 621.5h1M320 628.5h1M320 629.5h1M313 638.5h1M318 631.5h1M316 622.5h1M315 636.5h1M320 630.5h1M310 640.5h1M319 631.5h1M317 633.5h1M307 640.5h1M295 641.5h1M305 641.5h1M311 621.5h1M295 628.5h1M318 632.5h1M320 631.5h1M292 637.5h1M293 640.5h1M292 636.5h1M292 638.5h1M310 621.5h1M317 634.5h1M292 635.5h1M320 624.5h1M319 623.5h1M297 626.5h1M321 630.5h1M321 626.5h1M321 627.5h1M304 622.5h1M292 632.5h1M320 632.5h1M319 633.5h1M292 639.5h1M321 625.5h1M318 634.5h1M321 631.5h1M318 622.5h1M294 628.5h1M295 627.5h1M314 620.5h1M307 621.5h1M320 623.5h1M296 626.5h1M310 641.5h1M313 639.5h1M298 625.5h1M312 640.5h1M321 624.5h1M293 641.5h1M322 626.5h1M319 634.5h1M311 641.5h1M304 642.5h1M306 621.5h1M320 633.5h1M309 620.5h1M315 620.5h1M295 642.5h1M297 625.5h1M305 621.5h1M322 629.5h1M309 619.5h1M320 622.5h1M301 623.5h1M318 621.5h1M295 626.5h1M317 636.5h1M294 642.5h1M291 636.5h1M316 637.5h1M315 638.5h1M322 624.5h1M310 619.5h1M291 635.5h1M296 625.5h1M309 618.5h1M298 643.5h1M323 625.5h1M319 635.5h1M320 621.5h1M308 618.5h1M293 628.5h1M314 639.5h1M312 641.5h1M320 620.5h1M291 632.5h1M305 620.5h1M318 636.5h1M310 618.5h1M323 624.5h1M311 642.5h1M321 620.5h1M323 628.5h1M294 626.5h1M324 626.5h1M309 617.5h1M313 619.5h1M324 625.5h1M317 637.5h1M322 622.5h1M320 619.5h1M321 619.5h1M303 621.5h1M318 619.5h1M294 643.5h1M323 620.5h1M302 644.5h1M324 627.5h1M293 627.5h1M300 644.5h1M323 631.5h1M323 621.5h1M292 642.5h1M304 643.5h1M324 619.5h1M322 618.5h1M324 621.5h1M307 617.5h1M319 618.5h1M318 618.5h1M317 618.5h1M325 620.5h1M316 618.5h1M291 629.5h1M326 621.5h1M324 618.5h1M304 618.5h1M326 624.5h1M295 624.5h1M326 625.5h1M327 622.5h1M321 635.5h1M302 645.5h1M308 642.5h1M327 623.5h1M303 619.5h1M290 630.5h1M309 616.5h1M303 645.5h1M316 639.5h1M301 645.5h1M324 631.5h1M322 617.5h1M295 644.5h1M322 634.5h1M321 617.5h1M311 643.5h1M297 623.5h1M304 617.5h1M324 617.5h1M326 629.5h1M326 630.5h1M327 626.5h1M292 644.5h1M329 621.5h1M327 630.5h1M321 636.5h1M289 635.5h1M303 646.5h1M303 617.5h1M289 630.5h1M331 621.5h1M289 634.5h1M290 641.5h1M317 615.5h1M326 618.5h1M289 638.5h1M318 614.5h1M315 641.5h1M305 616.5h1M328 628.5h1M315 616.5h1M319 615.5h1M331 620.5h1M332 621.5h1M318 613.5h1M298 622.5h1M318 644.5h1M293 624.5h1M328 631.5h1M319 638.5h1M289 640.5h1M331 623.5h1M291 645.5h1M293 646.5h1M316 644.5h1M323 635.5h1M318 645.5h1M318 612.5h1M327 632.5h1M330 624.5h1M329 629.5h1M317 642.5h1M316 645.5h1M319 644.5h1M301 618.5h1M295 647.5h1M305 646.5h1M297 646.5h1M284 638.5h1M333 620.5h1M286 638.5h1M289 645.5h1M294 622.5h1M318 611.5h1M288 627.5h1M287 631.5h1M287 645.5h1M299 620.5h1M329 614.5h1M286 645.5h1M296 649.5h1M330 615.5h1M327 614.5h1M286 634.5h1M342 613.5h1M333 627.5h1M285 641.5h1M293 649.5h1M287 626.5h1M341 612.5h1M334 628.5h1M281 638.5h1M310 646.5h1M343 616.5h1M342 619.5h1M324 639.5h1M295 617.5h1M336 611.5h1M339 624.5h1M300 653.5h1M324 606.5h1M333 639.5h1M310 608.5h1" stroke="rgb(80, 85, 165)" stroke-width="1" fill="none"/>
<path d="M298 639.5h1M313 630.5h1M300 628.5h1M308 625.5h1M313 628.5h1M295 633.5h1M295 635.5h1M313 631.5h1M296 631.5h1M304 625.5h1M309 637.5h1M311 636.5h1M296 638.5h1M305 639.5h1M311 626.5h1M301 627.5h1M313 632.5h1M309 625.5h1M302 640.5h1M301 640.5h1M295 636.5h1M313 627.5h1M302 626.5h1M297 630.5h1M312 635.5h1M295 632.5h1M300 640.5h1M310 637.5h1M297 639.5h1M303 640.5h1M313 633.5h1M307 638.5h1M303 625.5h1M312 626.5h1M295 637.5h1M314 628.5h1M310 625.5h1M314 627.5h1M314 629.5h1M299 640.5h1M307 624.5h1M298 629.5h1M306 624.5h1M308 624.5h1M314 630.5h1M313 634.5h1M313 626.5h1M314 631.5h1M295 638.5h1M312 636.5h1M295 631.5h1M304 640.5h1M315 627.5h1M296 639.5h1M311 637.5h1M308 638.5h1M309 624.5h1M296 630.5h1M314 626.5h1M314 632.5h1M315 628.5h1M301 626.5h1M306 639.5h1M302 625.5h1M315 626.5h1M313 635.5h1M309 638.5h1" stroke="rgb(50, 65, 205)" stroke-width="1" fill="none"/>
<path d="M311 588.5h1M313 586.5h1M316 600.5h1M306 600.5h1M302 605.5h1M328 585.5h1M329 606.5h1M334 614.5h1M343 575.5h1M342 628.5h1" stroke="#8088aa" stroke-width="1" fill="none"/>
<path d="M267.3 551.4H412.3V695.0" stroke="#6a6a6a" stroke-width="1.2" fill="none"/>
<path d="M267.3 550.9V695.0H412.8" stroke="#222" stroke-width="1.2" fill="none"/>
<path d="M338.9 551.4V695.0M267.3 610.2H412.3" stroke="#262626" stroke-width="1.35" fill="none"/>
<path d="M262.9 695.0H267.3M262.9 671.2H267.3M262.9 647.3H267.3M262.9 623.5H267.3M262.9 599.7H267.3M262.9 575.8H267.3M262.9 552.0H267.3M283.1 695.0V699.2M315.1 695.0V699.2M347.1 695.0V699.2M379.1 695.0V699.2M411.1 695.0V699.2" stroke="#222" stroke-width="1.1" fill="none"/>
<path d="M265.1 687.8H267.3M265.1 683.6H267.3M265.1 680.7H267.3M265.1 678.3H267.3M265.1 676.5H267.3M265.1 674.9H267.3M265.1 673.5H267.3M265.1 672.3H267.3M265.1 664.0H267.3M265.1 659.8H267.3M265.1 656.8H267.3M265.1 654.5H267.3M265.1 652.6H267.3M265.1 651.0H267.3M265.1 649.6H267.3M265.1 648.4H267.3M265.1 640.2H267.3M265.1 636.0H267.3M265.1 633.0H267.3M265.1 630.7H267.3M265.1 628.8H267.3M265.1 627.2H267.3M265.1 625.8H267.3M265.1 624.6H267.3M265.1 616.3H267.3M265.1 612.1H267.3M265.1 609.2H267.3M265.1 606.8H267.3M265.1 605.0H267.3M265.1 603.4H267.3M265.1 602.0H267.3M265.1 600.8H267.3M265.1 592.5H267.3M265.1 588.3H267.3M265.1 585.3H267.3M265.1 583.0H267.3M265.1 581.1H267.3M265.1 579.5H267.3M265.1 578.1H267.3M265.1 576.9H267.3M265.1 568.7H267.3M265.1 564.5H267.3M265.1 561.5H267.3M265.1 559.2H267.3M265.1 557.3H267.3M265.1 555.7H267.3M265.1 554.3H267.3M265.1 553.1H267.3M270.4 695.0V697.2M273.5 695.0V697.2M276.0 695.0V697.2M278.1 695.0V697.2M280.0 695.0V697.2M281.6 695.0V697.2M292.7 695.0V697.2M298.4 695.0V697.2M302.4 695.0V697.2M305.5 695.0V697.2M308.0 695.0V697.2M310.1 695.0V697.2M312.0 695.0V697.2M313.6 695.0V697.2M324.7 695.0V697.2M330.4 695.0V697.2M334.4 695.0V697.2M337.5 695.0V697.2M340.0 695.0V697.2M342.1 695.0V697.2M344.0 695.0V697.2M345.6 695.0V697.2M356.7 695.0V697.2M362.4 695.0V697.2M366.4 695.0V697.2M369.5 695.0V697.2M372.0 695.0V697.2M374.1 695.0V697.2M376.0 695.0V697.2M377.6 695.0V697.2M388.7 695.0V697.2M394.4 695.0V697.2M398.4 695.0V697.2M401.5 695.0V697.2M404.0 695.0V697.2M406.1 695.0V697.2M408.0 695.0V697.2M409.6 695.0V697.2" stroke="#333" stroke-width="0.8" fill="none"/>
<text x="260.5" y="695.2" class="a" font-size="5.3" font-weight="bold" text-anchor="end" fill="#222" textLength="8" lengthAdjust="spacingAndGlyphs">10<tspan font-size="4.5" dy="-3.2">0</tspan></text>
<text x="260.5" y="674.4" class="a" font-size="5.3" font-weight="bold" text-anchor="end" fill="#222" textLength="8" lengthAdjust="spacingAndGlyphs">10<tspan font-size="4.5" dy="-3.2">1</tspan></text>
<text x="260.5" y="650.5" class="a" font-size="5.3" font-weight="bold" text-anchor="end" fill="#222" textLength="8" lengthAdjust="spacingAndGlyphs">10<tspan font-size="4.5" dy="-3.2">2</tspan></text>
<text x="260.5" y="626.7" class="a" font-size="5.3" font-weight="bold" text-anchor="end" fill="#222" textLength="8" lengthAdjust="spacingAndGlyphs">10<tspan font-size="4.5" dy="-3.2">3</tspan></text>
<text x="260.5" y="602.9" class="a" font-size="5.3" font-weight="bold" text-anchor="end" fill="#222" textLength="8" lengthAdjust="spacingAndGlyphs">10<tspan font-size="4.5" dy="-3.2">4</tspan></text>
<text x="260.5" y="579.0" class="a" font-size="5.3" font-weight="bold" text-anchor="end" fill="#222" textLength="8" lengthAdjust="spacingAndGlyphs">10<tspan font-size="4.5" dy="-3.2">5</tspan></text>
<text x="260.5" y="559.6" class="a" font-size="5.3" font-weight="bold" text-anchor="end" fill="#222" textLength="8" lengthAdjust="spacingAndGlyphs">10<tspan font-size="4.5" dy="-3.2">6</tspan></text>
<text x="283.9" y="707.6" class="a" font-size="5.3" font-weight="bold" fill="#222" textLength="8" lengthAdjust="spacingAndGlyphs">10<tspan font-size="4.5" dy="-3.2">2</tspan></text>
<text x="315.9" y="707.6" class="a" font-size="5.3" font-weight="bold" fill="#222" textLength="8" lengthAdjust="spacingAndGlyphs">10<tspan font-size="4.5" dy="-3.2">3</tspan></text>
<text x="347.9" y="707.6" class="a" font-size="5.3" font-weight="bold" fill="#222" textLength="8" lengthAdjust="spacingAndGlyphs">10<tspan font-size="4.5" dy="-3.2">4</tspan></text>
<text x="379.9" y="707.6" class="a" font-size="5.3" font-weight="bold" fill="#222" textLength="8" lengthAdjust="spacingAndGlyphs">10<tspan font-size="4.5" dy="-3.2">5</tspan></text>
<text x="404.1" y="707.6" class="a" font-size="5.3" font-weight="bold" fill="#222" textLength="8" lengthAdjust="spacingAndGlyphs">10<tspan font-size="4.5" dy="-3.2">6</tspan></text>
<text x="269.3" y="563.5" class="a" font-size="7.3" fill="#111" textLength="12.1" lengthAdjust="spacingAndGlyphs">0.27</text>
<text x="401.3" y="563.5" class="a" font-size="7.3" fill="#111" text-anchor="end" textLength="15.5" lengthAdjust="spacingAndGlyphs">0.030</text>
<text x="269.3" y="687.8" class="a" font-size="7.3" fill="#111" textLength="12.1" lengthAdjust="spacingAndGlyphs">99.7</text>
<text x="401.3" y="687.8" class="a" font-size="7.3" fill="#111" text-anchor="end" textLength="15.5" lengthAdjust="spacingAndGlyphs">0.030</text>
<text x="287.9" y="545.3" class="s" font-size="13.6">Sesamoside 200 &#956;M</text>
<path d="M498 628.5h1M496 630.5h1M497 627.5h1M527 624.5h1M529 622.5h1M499 627.5h1M494 630.5h1M533 625.5h1M491 629.5h1M529 625.5h1M491 630.5h1M523 625.5h1M501 628.5h1M498 626.5h1M501 630.5h1M525 621.5h1M518 626.5h1M519 624.5h1M518 624.5h1M496 625.5h1M491 632.5h1M530 619.5h1M499 625.5h1M503 628.5h1M515 628.5h1M510 627.5h1M506 622.5h1M507 629.5h1M540 621.5h1M510 631.5h1M508 631.5h1M516 631.5h1M539 627.5h1" stroke="rgb(110, 190, 215)" stroke-width="1" fill="none"/>
<path d="M497 628.5h1M496 628.5h1M496 629.5h1M499 628.5h1M494 627.5h1M493 628.5h1M499 630.5h1M492 626.5h1M529 624.5h1M526 623.5h1M526 624.5h1M530 623.5h1M526 622.5h1M528 625.5h1M527 625.5h1M492 630.5h1M495 631.5h1M531 625.5h1M531 623.5h1M501 629.5h1M492 625.5h1M529 626.5h1M531 626.5h1M493 631.5h1M492 631.5h1M521 624.5h1M490 627.5h1M537 625.5h1M531 621.5h1M524 626.5h1M522 626.5h1M536 626.5h1M535 621.5h1M517 625.5h1M536 621.5h1M494 632.5h1M525 627.5h1M523 621.5h1M499 632.5h1M515 627.5h1M527 628.5h1M536 620.5h1M489 627.5h1M500 625.5h1M514 627.5h1M526 628.5h1M514 625.5h1M519 628.5h1M502 631.5h1M518 622.5h1M520 621.5h1M516 623.5h1M495 633.5h1M504 629.5h1M524 628.5h1M534 619.5h1M504 630.5h1M512 626.5h1M512 627.5h1M513 625.5h1M517 622.5h1M502 626.5h1M514 628.5h1M538 626.5h1M519 629.5h1M516 629.5h1M511 627.5h1M497 624.5h1M521 620.5h1M518 621.5h1M505 627.5h1M500 624.5h1M506 628.5h1M507 623.5h1M506 623.5h1M506 625.5h1M508 624.5h1M534 618.5h1M522 629.5h1M505 625.5h1M512 624.5h1M503 632.5h1M505 623.5h1M510 629.5h1M509 626.5h1M530 617.5h1M490 634.5h1M490 624.5h1M534 629.5h1M508 621.5h1M507 621.5h1M510 630.5h1M506 621.5h1M527 630.5h1M521 630.5h1M488 633.5h1M488 626.5h1M503 622.5h1M534 617.5h1M503 621.5h1M502 622.5h1M525 630.5h1M506 632.5h1M504 620.5h1M518 619.5h1M502 620.5h1M530 616.5h1M505 633.5h1M521 618.5h1M501 620.5h1M514 621.5h1M534 630.5h1M525 631.5h1M538 617.5h1M512 633.5h1M508 619.5h1M522 617.5h1M541 626.5h1M536 615.5h1M501 636.5h1M510 634.5h1M492 620.5h1M535 614.5h1M526 633.5h1M485 631.5h1M496 619.5h1M513 635.5h1M521 633.5h1M485 627.5h1M509 616.5h1" stroke="rgb(95, 100, 165)" stroke-width="1" fill="none"/>
<path d="M497 630.5h1M498 630.5h1M493 626.5h1M492 628.5h1M529 623.5h1M494 626.5h1M535 624.5h1M491 628.5h1M498 631.5h1M530 625.5h1M523 623.5h1M526 625.5h1M536 622.5h1M524 622.5h1M522 623.5h1M526 621.5h1M496 632.5h1M489 629.5h1M532 620.5h1" stroke="rgb(70, 195, 80)" stroke-width="1" fill="none"/>
<path d="M497 629.5h1M495 628.5h1M495 627.5h1M528 623.5h1M527 623.5h1M528 622.5h1M492 629.5h1M534 625.5h1M530 624.5h1M535 625.5h1M491 627.5h1M536 623.5h1M524 624.5h1M493 630.5h1M532 625.5h1M523 624.5h1M529 621.5h1M500 630.5h1M500 627.5h1M527 621.5h1M522 624.5h1M537 623.5h1M537 624.5h1M530 621.5h1M494 625.5h1M535 626.5h1M494 631.5h1M490 628.5h1M534 622.5h1M527 626.5h1M521 625.5h1M529 620.5h1M497 632.5h1M530 620.5h1M501 627.5h1M528 620.5h1M490 631.5h1M517 626.5h1M495 632.5h1M520 624.5h1M500 631.5h1M516 626.5h1M538 623.5h1M521 626.5h1M531 620.5h1M502 629.5h1M516 625.5h1M502 628.5h1M529 627.5h1M520 623.5h1M530 627.5h1M526 627.5h1M524 627.5h1M518 627.5h1M497 625.5h1M501 626.5h1M535 620.5h1M532 619.5h1M502 627.5h1M526 620.5h1M516 628.5h1M503 630.5h1M536 627.5h1M496 633.5h1M532 628.5h1M488 630.5h1M530 628.5h1M505 629.5h1M533 618.5h1M511 626.5h1M528 629.5h1M511 628.5h1M489 633.5h1M526 629.5h1M520 620.5h1M521 629.5h1M507 624.5h1M509 623.5h1M507 628.5h1M537 619.5h1M511 629.5h1M532 617.5h1M509 625.5h1M504 632.5h1M510 622.5h1M530 629.5h1M508 629.5h1M540 624.5h1M499 623.5h1M500 623.5h1M500 633.5h1M504 623.5h1M492 634.5h1M511 630.5h1M504 624.5h1M508 630.5h1M523 619.5h1M529 617.5h1M518 631.5h1M537 628.5h1M494 622.5h1M503 633.5h1M515 621.5h1M493 622.5h1M538 618.5h1M511 621.5h1M506 620.5h1M540 619.5h1M527 631.5h1M536 629.5h1M534 616.5h1M511 633.5h1M525 617.5h1M497 620.5h1M528 632.5h1M517 618.5h1M488 622.5h1M492 619.5h1M503 637.5h1M506 617.5h1M529 613.5h1M530 635.5h1M532 636.5h1" stroke="rgb(45, 75, 210)" stroke-width="1" fill="none"/>
<path d="M498 629.5h1M499 629.5h1M492 627.5h1M496 627.5h1M498 627.5h1M494 629.5h1M528 624.5h1M500 629.5h1M500 628.5h1M497 631.5h1M525 623.5h1M536 624.5h1M496 631.5h1M525 624.5h1M524 623.5h1M531 624.5h1M530 622.5h1M528 621.5h1M532 624.5h1M534 623.5h1M493 625.5h1M533 626.5h1M496 626.5h1M535 622.5h1M525 625.5h1M499 631.5h1M532 623.5h1M531 622.5h1M528 626.5h1M499 626.5h1M490 630.5h1M537 622.5h1M523 626.5h1M532 622.5h1M533 627.5h1M520 625.5h1M500 626.5h1M522 622.5h1M534 627.5h1M519 625.5h1M534 621.5h1M498 632.5h1M532 621.5h1M538 624.5h1M489 630.5h1M519 626.5h1M527 627.5h1M520 626.5h1M527 620.5h1M517 627.5h1M517 624.5h1M531 627.5h1M516 627.5h1M535 627.5h1M537 621.5h1M538 622.5h1M523 627.5h1M489 628.5h1M490 632.5h1M522 627.5h1M531 619.5h1M533 620.5h1M494 624.5h1M537 626.5h1M518 623.5h1M501 631.5h1M529 619.5h1M492 624.5h1M522 621.5h1M517 623.5h1M528 628.5h1M517 628.5h1M519 622.5h1M521 621.5h1M533 628.5h1M533 619.5h1M489 632.5h1M539 623.5h1M528 619.5h1M515 624.5h1M525 620.5h1M513 626.5h1M531 618.5h1M491 633.5h1M520 628.5h1M537 620.5h1M522 628.5h1M539 624.5h1M490 625.5h1M490 633.5h1M488 629.5h1M492 633.5h1M488 631.5h1M496 624.5h1M498 633.5h1M489 626.5h1M539 621.5h1M514 624.5h1M523 620.5h1M527 629.5h1M512 625.5h1M488 628.5h1M501 632.5h1M529 618.5h1M508 623.5h1M506 626.5h1M536 619.5h1M494 623.5h1M511 625.5h1M488 632.5h1M506 629.5h1M507 627.5h1M507 622.5h1M505 626.5h1M513 624.5h1M509 622.5h1M519 630.5h1M505 631.5h1M517 621.5h1M531 617.5h1M495 623.5h1M504 626.5h1M508 627.5h1M510 623.5h1M524 629.5h1M532 629.5h1M540 623.5h1M491 634.5h1M520 630.5h1M513 629.5h1M516 630.5h1M496 623.5h1M521 619.5h1M509 621.5h1M506 631.5h1M516 621.5h1M487 630.5h1M538 627.5h1M498 623.5h1M520 619.5h1M505 632.5h1M501 623.5h1M515 630.5h1M528 630.5h1M504 621.5h1M540 620.5h1M510 621.5h1M539 619.5h1M517 631.5h1M537 618.5h1M514 622.5h1M509 631.5h1M520 631.5h1M526 618.5h1M532 616.5h1M516 620.5h1M525 618.5h1M540 626.5h1M500 621.5h1M510 632.5h1M520 618.5h1M513 631.5h1M512 632.5h1M537 617.5h1M502 619.5h1M518 632.5h1M500 620.5h1M497 621.5h1M511 620.5h1M500 619.5h1M500 635.5h1M487 625.5h1M513 633.5h1M535 615.5h1M502 618.5h1M501 618.5h1M524 616.5h1M507 634.5h1M490 637.5h1M489 637.5h1M524 615.5h1M527 614.5h1M534 613.5h1M514 635.5h1M510 617.5h1M525 634.5h1M526 613.5h1M488 638.5h1M507 636.5h1M492 638.5h1M539 612.5h1M546 619.5h1" stroke="rgb(45, 45, 110)" stroke-width="1" fill="none"/>
<path d="M506 589.5h1M500 601.5h1M528 573.5h1M532 574.5h1M536 575.5h1M541 573.5h1M572 578.5h1M465 636.5h1M474 633.5h1M474 641.5h1M482 640.5h1M483 636.5h1M486 644.5h1" stroke="#8088aa" stroke-width="1" fill="none"/>
<path d="M449.5 551.4H594.5V694.8" stroke="#6a6a6a" stroke-width="1.2" fill="none"/>
<path d="M449.5 550.9V694.8H595.0" stroke="#222" stroke-width="1.2" fill="none"/>
<path d="M521.1 551.4V694.8M449.5 609.9H594.5" stroke="#262626" stroke-width="1.35" fill="none"/>
<path d="M445.1 694.8H449.5M445.1 671.0H449.5M445.1 647.2H449.5M445.1 623.4H449.5M445.1 599.6H449.5M445.1 575.8H449.5M445.1 552.0H449.5M465.3 694.8V699.0M497.3 694.8V699.0M529.3 694.8V699.0M561.3 694.8V699.0M593.3 694.8V699.0" stroke="#222" stroke-width="1.1" fill="none"/>
<path d="M447.3 687.6H449.5M447.3 683.4H449.5M447.3 680.5H449.5M447.3 678.2H449.5M447.3 676.3H449.5M447.3 674.7H449.5M447.3 673.3H449.5M447.3 672.1H449.5M447.3 663.8H449.5M447.3 659.6H449.5M447.3 656.7H449.5M447.3 654.4H449.5M447.3 652.5H449.5M447.3 650.9H449.5M447.3 649.5H449.5M447.3 648.3H449.5M447.3 640.0H449.5M447.3 635.8H449.5M447.3 632.9H449.5M447.3 630.6H449.5M447.3 628.7H449.5M447.3 627.1H449.5M447.3 625.7H449.5M447.3 624.5H449.5M447.3 616.2H449.5M447.3 612.0H449.5M447.3 609.1H449.5M447.3 606.8H449.5M447.3 604.9H449.5M447.3 603.3H449.5M447.3 601.9H449.5M447.3 600.7H449.5M447.3 592.4H449.5M447.3 588.2H449.5M447.3 585.3H449.5M447.3 583.0H449.5M447.3 581.1H449.5M447.3 579.5H449.5M447.3 578.1H449.5M447.3 576.9H449.5M447.3 568.6H449.5M447.3 564.4H449.5M447.3 561.5H449.5M447.3 559.2H449.5M447.3 557.3H449.5M447.3 555.7H449.5M447.3 554.3H449.5M447.3 553.1H449.5M452.6 694.8V697.0M455.7 694.8V697.0M458.2 694.8V697.0M460.3 694.8V697.0M462.2 694.8V697.0M463.8 694.8V697.0M474.9 694.8V697.0M480.6 694.8V697.0M484.6 694.8V697.0M487.7 694.8V697.0M490.2 694.8V697.0M492.3 694.8V697.0M494.2 694.8V697.0M495.8 694.8V697.0M506.9 694.8V697.0M512.6 694.8V697.0M516.6 694.8V697.0M519.7 694.8V697.0M522.2 694.8V697.0M524.3 694.8V697.0M526.2 694.8V697.0M527.8 694.8V697.0M538.9 694.8V697.0M544.6 694.8V697.0M548.6 694.8V697.0M551.7 694.8V697.0M554.2 694.8V697.0M556.3 694.8V697.0M558.2 694.8V697.0M559.8 694.8V697.0M570.9 694.8V697.0M576.6 694.8V697.0M580.6 694.8V697.0M583.7 694.8V697.0M586.2 694.8V697.0M588.3 694.8V697.0M590.2 694.8V697.0M591.8 694.8V697.0" stroke="#333" stroke-width="0.8" fill="none"/>
<text x="442.7" y="695.0" class="a" font-size="5.3" font-weight="bold" text-anchor="end" fill="#222" textLength="8" lengthAdjust="spacingAndGlyphs">10<tspan font-size="4.5" dy="-3.2">0</tspan></text>
<text x="442.7" y="674.2" class="a" font-size="5.3" font-weight="bold" text-anchor="end" fill="#222" textLength="8" lengthAdjust="spacingAndGlyphs">10<tspan font-size="4.5" dy="-3.2">1</tspan></text>
<text x="442.7" y="650.4" class="a" font-size="5.3" font-weight="bold" text-anchor="end" fill="#222" textLength="8" lengthAdjust="spacingAndGlyphs">10<tspan font-size="4.5" dy="-3.2">2</tspan></text>
<text x="442.7" y="626.6" class="a" font-size="5.3" font-weight="bold" text-anchor="end" fill="#222" textLength="8" lengthAdjust="spacingAndGlyphs">10<tspan font-size="4.5" dy="-3.2">3</tspan></text>
<text x="442.7" y="602.8" class="a" font-size="5.3" font-weight="bold" text-anchor="end" fill="#222" textLength="8" lengthAdjust="spacingAndGlyphs">10<tspan font-size="4.5" dy="-3.2">4</tspan></text>
<text x="442.7" y="579.0" class="a" font-size="5.3" font-weight="bold" text-anchor="end" fill="#222" textLength="8" lengthAdjust="spacingAndGlyphs">10<tspan font-size="4.5" dy="-3.2">5</tspan></text>
<text x="442.7" y="559.6" class="a" font-size="5.3" font-weight="bold" text-anchor="end" fill="#222" textLength="8" lengthAdjust="spacingAndGlyphs">10<tspan font-size="4.5" dy="-3.2">6</tspan></text>
<text x="466.1" y="707.4" class="a" font-size="5.3" font-weight="bold" fill="#222" textLength="8" lengthAdjust="spacingAndGlyphs">10<tspan font-size="4.5" dy="-3.2">2</tspan></text>
<text x="498.1" y="707.4" class="a" font-size="5.3" font-weight="bold" fill="#222" textLength="8" lengthAdjust="spacingAndGlyphs">10<tspan font-size="4.5" dy="-3.2">3</tspan></text>
<text x="530.1" y="707.4" class="a" font-size="5.3" font-weight="bold" fill="#222" textLength="8" lengthAdjust="spacingAndGlyphs">10<tspan font-size="4.5" dy="-3.2">4</tspan></text>
<text x="562.1" y="707.4" class="a" font-size="5.3" font-weight="bold" fill="#222" textLength="8" lengthAdjust="spacingAndGlyphs">10<tspan font-size="4.5" dy="-3.2">5</tspan></text>
<text x="586.3" y="707.4" class="a" font-size="5.3" font-weight="bold" fill="#222" textLength="8" lengthAdjust="spacingAndGlyphs">10<tspan font-size="4.5" dy="-3.2">6</tspan></text>
<text x="451.5" y="563.5" class="a" font-size="7.3" fill="#111" textLength="12.1" lengthAdjust="spacingAndGlyphs">0.22</text>
<text x="585.7" y="563.5" class="a" font-size="7.3" fill="#111" text-anchor="end" textLength="12.1" lengthAdjust="spacingAndGlyphs">0.29</text>
<text x="451.5" y="687.6" class="a" font-size="7.3" fill="#111" textLength="12.1" lengthAdjust="spacingAndGlyphs">68.4</text>
<text x="585.7" y="687.6" class="a" font-size="7.3" fill="#111" text-anchor="end" textLength="12.1" lengthAdjust="spacingAndGlyphs">31.1</text>
<text x="469.6" y="545.3" class="s" font-size="13.6">Sesamoside 500 &#956;M</text>
<path d="M247.8 944.3H268.8V960.3H247.8ZM279.2 942.2H300.2V960.3H279.2ZM310.5 945.9H331.5V960.3H310.5ZM341.9 949.5H362.9V960.3H341.9ZM373.2 948.3H394.2V960.3H373.2ZM404.6 816.7H425.6V960.3H404.6Z" fill="#000"/>
<path d="M258.3 944.3V931.0M253.1 931.0H263.5M289.7 942.2V915.8M284.5 915.8H294.9M321.0 945.9V928.4M315.8 928.4H326.2M352.4 949.5V935.8M347.2 935.8H357.6M383.7 948.3V931.8M378.5 931.8H388.9M415.1 816.7V796.2M409.9 796.2H420.2" stroke="#000" stroke-width="2.4" fill="none"/>
<path d="M237.4 759.7V960.3M229.1 960.3H437.7M229.0 920.2H237.4M229.0 880.1H237.4M229.0 839.9H237.4M229.0 799.8H237.4M229.0 759.7H237.4M232.8 940.2H237.4M232.8 900.1H237.4M232.8 860.0H237.4M232.8 819.9H237.4M232.8 779.8H237.4M258.3 960.3V968.9M289.7 960.3V968.9M321.0 960.3V968.9M352.4 960.3V968.9M383.7 960.3V968.9M415.1 960.3V968.9" stroke="#000" stroke-width="2.2" fill="none"/>
<text x="227.6" y="965.7" class="a" font-size="15" text-anchor="end" font-weight="bold">0</text>
<text x="227.6" y="925.6" class="a" font-size="15" text-anchor="end" font-weight="bold">10</text>
<text x="227.6" y="885.5" class="a" font-size="15" text-anchor="end" font-weight="bold">20</text>
<text x="227.6" y="845.3" class="a" font-size="15" text-anchor="end" font-weight="bold">30</text>
<text x="227.6" y="805.2" class="a" font-size="15" text-anchor="end" font-weight="bold">40</text>
<text x="227.6" y="765.1" class="a" font-size="15" text-anchor="end" font-weight="bold">50</text>
<text x="258.3" y="986.5" class="s" font-size="16" text-anchor="middle">0</text>
<text x="289.7" y="986.5" class="s" font-size="16" text-anchor="middle">25</text>
<text x="321.0" y="986.5" class="s" font-size="16" text-anchor="middle">50</text>
<text x="352.4" y="986.5" class="s" font-size="16" text-anchor="middle">100</text>
<text x="383.7" y="986.5" class="s" font-size="16" text-anchor="middle">200</text>
<text x="415.1" y="986.5" class="s" font-size="16" text-anchor="middle">500</text>
<path d="M250.8 993.3H429.8" stroke="#000" stroke-width="2.2"/>
<text x="340.0" y="1009.2" class="s" font-size="16.4" text-anchor="middle">Sesamoside (&#956;M)</text>
<text x="198.9" y="860.0" class="s" font-size="16.9" text-anchor="middle" transform="rotate(-90 198.9 860.0)">Apoptosis rate (%)</text>
<text x="294.9" y="913.6" class="s" font-size="14" transform="rotate(-90 294.9 913.6)">NS</text>
<text x="326.2" y="926.2" class="s" font-size="14" transform="rotate(-90 326.2 926.2)">NS</text>
<text x="357.6" y="933.6" class="s" font-size="14" transform="rotate(-90 357.6 933.6)">NS</text>
<text x="388.9" y="929.6" class="s" font-size="14" transform="rotate(-90 388.9 929.6)">NS</text>
<path d="M413.20 774.30L418.20 774.30M414.45 772.13L416.95 776.47M416.95 772.13L414.45 776.47M413.20 782.30L418.20 782.30M414.45 780.13L416.95 784.47M416.95 780.13L414.45 784.47M413.20 789.90L418.20 789.90M414.45 787.73L416.95 792.07M416.95 787.73L414.45 792.07" stroke="#111" stroke-width="1.0" fill="none"/>
</svg></body></html>
